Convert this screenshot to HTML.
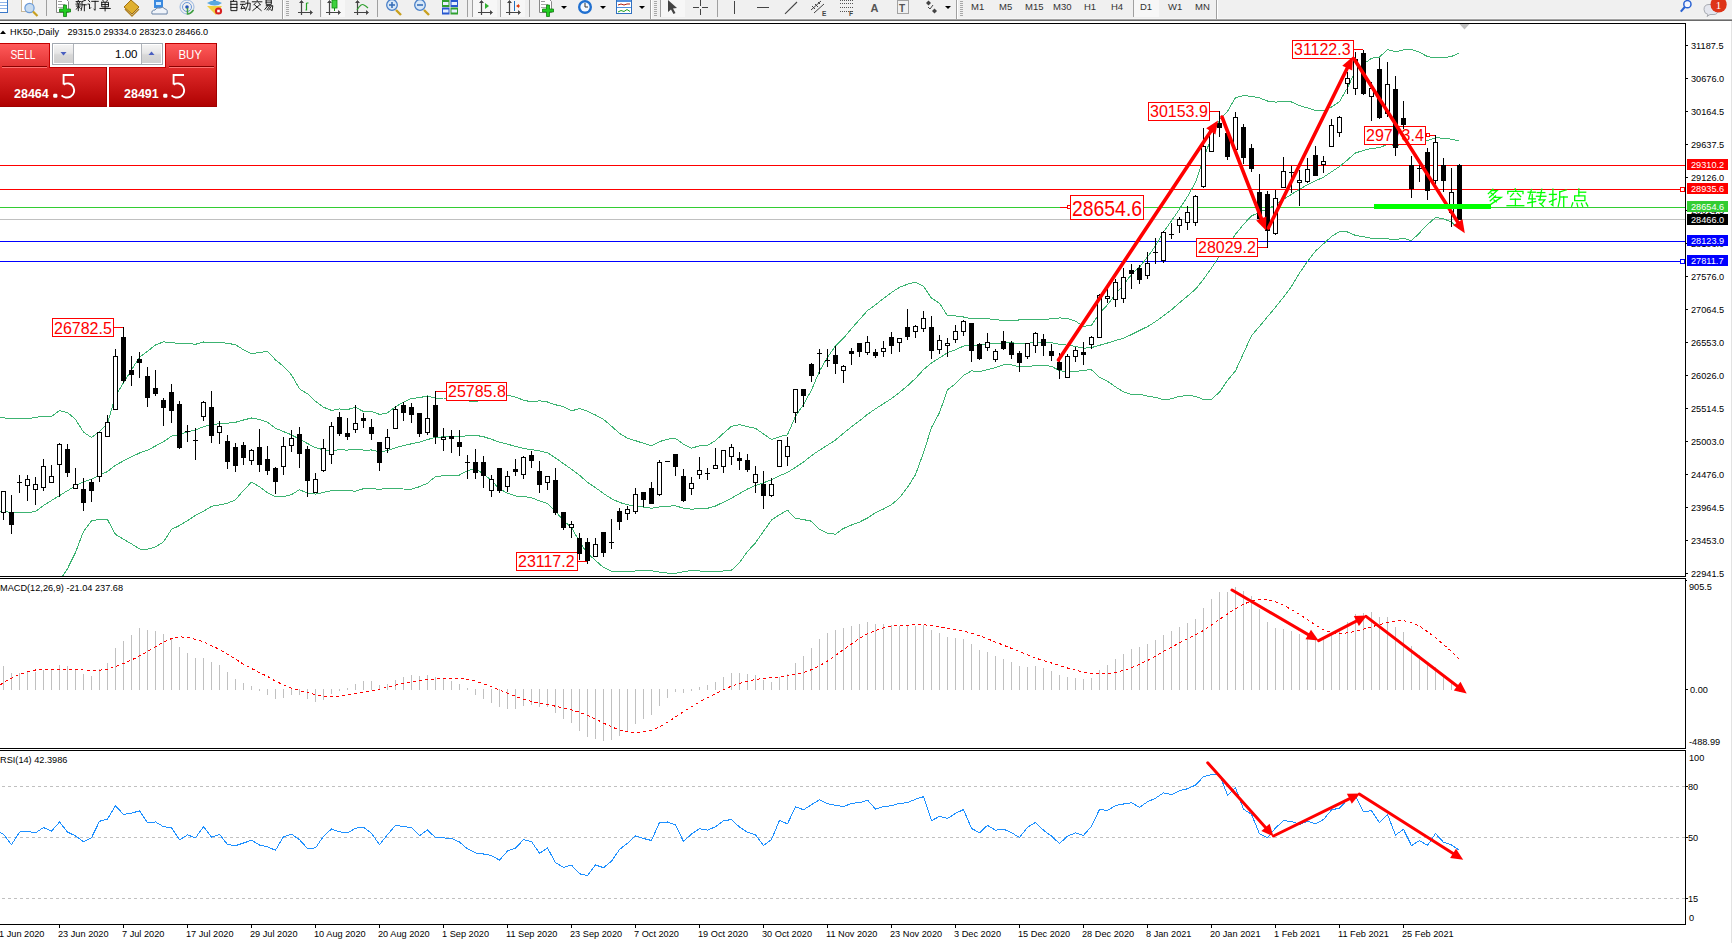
<!DOCTYPE html><html><head><meta charset="utf-8"><title>HK50 Daily</title><style>html,body{margin:0;padding:0;background:#fff;overflow:hidden;width:1732px;height:943px}svg text{font-family:"Liberation Sans", sans-serif}</style></head><body><svg width="1732" height="943" viewBox="0 0 1732 943" style="display:block;font-family:'Liberation Sans', sans-serif"><defs>
<linearGradient id="gTab" x1="0" y1="0" x2="0" y2="1"><stop offset="0" stop-color="#ff5a5a"/><stop offset="1" stop-color="#e23333"/></linearGradient>
<linearGradient id="gBox" x1="0" y1="0" x2="0" y2="1"><stop offset="0" stop-color="#e02a2a"/><stop offset="1" stop-color="#b00202"/></linearGradient>
<linearGradient id="gBtn" x1="0" y1="0" x2="0" y2="1"><stop offset="0" stop-color="#f4f4f4"/><stop offset="0.45" stop-color="#e6e6e6"/><stop offset="0.55" stop-color="#d8d8d8"/><stop offset="1" stop-color="#d0d0d0"/></linearGradient>
<linearGradient id="gTb" x1="0" y1="0" x2="0" y2="1"><stop offset="0" stop-color="#f0f0f0"/><stop offset="1" stop-color="#f0f0f0"/></linearGradient>
</defs><rect width="1732" height="943" fill="#fff"/><rect x="0" y="0" width="1732" height="19" fill="#f0f0f0"/><rect x="0" y="18" width="1732" height="1" fill="#f6f6f6"/><rect x="0" y="19" width="1732" height="1" fill="#a2a2a2"/><rect x="0" y="20" width="1732" height="1" fill="#6a6a6a"/><rect x="-3.5" y="-2.5" width="11" height="15" fill="#fff" stroke="#3a78c8"/><rect x="-3" y="2" width="10" height="1" fill="#8fb4e8"/><rect x="-3" y="5" width="10" height="1" fill="#8fb4e8"/><rect x="-3" y="8" width="10" height="1" fill="#8fb4e8"/><rect x="21.5" y="-1.5" width="11" height="13" fill="#fff" stroke="#c8b89a"/><circle cx="29.5" cy="8" r="4.6" fill="#c8dcf0" stroke="#6a9ad8" stroke-width="1.2"/><line x1="33" y1="11.5" x2="37.5" y2="16" stroke="#c8a020" stroke-width="2.2"/><rect x="46" y="0" width="1" height="16" fill="#a0a0a0"/><path d="M56.5,-1.5 h9 l3,3 v11 h-12 z" fill="#fff" stroke="#888"/><rect x="58" y="1" width="4" height="1" fill="#999"/><rect x="58" y="4" width="7" height="1" fill="#aaa"/><rect x="58" y="7" width="6" height="1" fill="#aaa"/><path d="M63.5,5 h3 v4 h4 v3 h-4 v4.5 h-3 v-4.5 h-4 v-3 h4 z" fill="#22cc22" stroke="#108010" stroke-width="0.8"/><g fill="none" stroke="#111" stroke-width="0.95" stroke-linecap="square" stroke-linejoin="miter"><polyline points="77.96,-0.04 78.52,0.88"/><polyline points="76.17,1.57 80.43,1.57"/><polyline points="77.07,2.26 77.52,3.29"/><polyline points="79.53,2.15 78.97,3.41"/><polyline points="75.95,4.10 80.65,4.10"/><polyline points="76.40,6.05 80.20,6.05"/><polyline points="78.30,4.10 78.30,10.65"/><polyline points="78.30,6.63 76.40,9.16"/><polyline points="78.64,6.86 80.20,8.24"/><polyline points="85.58,0.19 82.00,1.57"/><polyline points="82.00,1.57 82.00,6.40 81.21,10.31"/><polyline points="82.00,4.79 86.25,4.79"/><polyline points="84.35,4.79 84.35,10.77"/></g><g fill="none" stroke="#111" stroke-width="0.95" stroke-linecap="square" stroke-linejoin="miter"><polyline points="88.62,0.42 89.74,1.80"/><polyline points="87.95,4.10 89.52,4.10 89.52,8.93 90.64,7.78"/><polyline points="91.76,1.34 98.25,1.34"/><polyline points="95.12,1.34 95.12,10.31 94.00,9.39"/></g><g fill="none" stroke="#111" stroke-width="0.95" stroke-linecap="square" stroke-linejoin="miter"><polyline points="102.64,-0.04 103.42,1.23"/><polyline points="107.56,-0.04 106.67,1.23"/><polyline points="101.74,2.26 108.46,2.26 108.46,6.86 101.74,6.86 101.74,2.26"/><polyline points="101.74,4.56 108.46,4.56"/><polyline points="99.95,8.47 110.25,8.47"/><polyline points="105.10,2.26 105.10,10.88"/></g><path d="M124,7 L131,0 L139,7 L132,14 Z" fill="#e0b030" stroke="#a07010"/><path d="M125,9 L132,16 L139,9" fill="none" stroke="#b08020" stroke-width="1.5"/><rect x="154" y="-1" width="9" height="9" fill="#3a8ae0"/><rect x="156" y="2" width="5" height="3" fill="#d0e8ff"/><path d="M152,14 q-1,-4 3,-4 q1,-3 5,-2 q3,-2 5,1 q3,0 2,5 z" fill="#f0f4fa" stroke="#6a84a8"/><circle cx="187" cy="7" r="7" fill="none" stroke="#9ab8e0" stroke-width="1"/><circle cx="187" cy="7" r="4.5" fill="none" stroke="#6a98d8" stroke-width="1"/><circle cx="187" cy="7" r="1.8" fill="#2a5ab8"/><path d="M187.5,8 v6 q3,0 6,-4" fill="none" stroke="#40a040" stroke-width="1.5"/><path d="M207,3 q7,-5 15,0 q-7,5 -15,0 z" fill="#5aa8e0"/><path d="M213,1 l1.5,-3 l1.5,3 z" fill="#3a88d0"/><path d="M207,6 l15,0 l-6,9 z" fill="#f0d040"/><circle cx="218.5" cy="11" r="3.6" fill="#d82020"/><rect x="217.2" y="9.7" width="2.6" height="2.6" fill="#fff"/><g fill="none" stroke="#111" stroke-width="0.95" stroke-linecap="square" stroke-linejoin="miter"><polyline points="233.90,-0.27 233.04,1.23"/><polyline points="230.88,1.34 236.92,1.34 236.92,10.65 230.88,10.65 230.88,1.34"/><polyline points="230.88,4.33 236.92,4.33"/><polyline points="230.88,7.43 236.92,7.43"/></g><g fill="none" stroke="#111" stroke-width="0.95" stroke-linecap="square" stroke-linejoin="miter"><polyline points="240.96,1.80 244.64,1.80"/><polyline points="240.42,4.33 245.07,4.33"/><polyline points="242.69,4.33 240.96,8.93 244.85,8.01"/><polyline points="243.77,6.63 244.85,8.70"/><polyline points="245.72,3.18 250.25,3.18 249.82,10.31 248.74,9.39"/><polyline points="247.88,0.19 247.66,5.25 245.50,10.31"/></g><g fill="none" stroke="#111" stroke-width="0.95" stroke-linecap="square" stroke-linejoin="miter"><polyline points="256.88,-0.27 257.32,0.88"/><polyline points="252.35,1.80 261.85,1.80"/><polyline points="255.59,2.95 253.86,4.79"/><polyline points="258.61,2.95 260.56,4.79"/><polyline points="254.72,5.02 261.20,10.54"/><polyline points="259.48,5.02 252.78,10.54"/></g><g fill="none" stroke="#111" stroke-width="0.95" stroke-linecap="square" stroke-linejoin="miter"><polyline points="266.11,-0.04 271.29,-0.04 271.29,4.33 266.11,4.33 266.11,-0.04"/><polyline points="266.11,2.15 271.29,2.15"/><polyline points="266.32,5.71 272.80,5.71 272.16,10.54 270.86,9.85"/><polyline points="267.84,5.71 264.81,9.39"/><polyline points="269.35,6.63 266.97,9.85"/><polyline points="271.08,6.63 268.70,10.08"/></g><rect x="282" y="0" width="1" height="19" fill="#a0a0a0"/><rect x="283" y="0" width="1" height="19" fill="#ffffff"/><rect x="286" y="1" width="3" height="1" fill="#a8a8a8"/><rect x="286" y="3" width="3" height="1" fill="#a8a8a8"/><rect x="286" y="5" width="3" height="1" fill="#a8a8a8"/><rect x="286" y="7" width="3" height="1" fill="#a8a8a8"/><rect x="286" y="9" width="3" height="1" fill="#a8a8a8"/><rect x="286" y="11" width="3" height="1" fill="#a8a8a8"/><rect x="286" y="13" width="3" height="1" fill="#a8a8a8"/><rect x="286" y="15" width="3" height="1" fill="#a8a8a8"/><path d="M301.5,1 v14 M298,12.5 h14" stroke="#444" stroke-width="1.2" fill="none"/><path d="M299.5,3 l2,-2.5 l2,2.5 M310,10.5 l2.5,2 l-2.5,2" fill="#444" stroke="#444" stroke-width="0.8"/><path d="M305.5,10 h1 M306.5,3 v7.5 M306.5,3 h2" stroke="#20a020" stroke-width="1.2" fill="none"/><rect x="320" y="0" width="1" height="17" fill="#a0a0a0"/><rect x="322" y="0" width="23" height="17" fill="#f7f7f7"/><path d="M329.5,1 v14 M326,12.5 h14" stroke="#444" stroke-width="1.2" fill="none"/><path d="M327.5,3 l2,-2.5 l2,2.5 M338,10.5 l2.5,2 l-2.5,2" fill="#444" stroke="#444" stroke-width="0.8"/><rect x="332" y="0" width="5" height="8" fill="#40d040" stroke="#109010" stroke-width="0.8"/><rect x="334" y="8" width="1" height="3" fill="#109010"/><path d="M357.5,1 v14 M354,12.5 h14" stroke="#444" stroke-width="1.2" fill="none"/><path d="M355.5,3 l2,-2.5 l2,2.5 M366,10.5 l2.5,2 l-2.5,2" fill="#444" stroke="#444" stroke-width="0.8"/><path d="M357,10 q4,-7 7,-5 q2,1 4,3" fill="none" stroke="#30a030" stroke-width="1.1"/><rect x="377" y="0" width="1" height="17" fill="#a0a0a0"/><line x1="396" y1="10" x2="401" y2="15" stroke="#c8a020" stroke-width="2.4"/><circle cx="392" cy="5" r="5.3" fill="#d8e8f8" stroke="#4a80c8" stroke-width="1.3"/><rect x="389" y="4.2" width="6" height="1.6" fill="#3a70b8"/><rect x="391.2" y="2" width="1.6" height="6" fill="#3a70b8"/><line x1="424" y1="10" x2="429" y2="15" stroke="#c8a020" stroke-width="2.4"/><circle cx="420" cy="5" r="5.3" fill="#d8e8f8" stroke="#4a80c8" stroke-width="1.3"/><rect x="417" y="4.2" width="6" height="1.6" fill="#3a70b8"/><rect x="442" y="0" width="7.5" height="7" fill="#30a030"/><rect x="450.5" y="0" width="7.5" height="7" fill="#2858d0"/><rect x="442" y="7.5" width="7.5" height="7" fill="#2858d0"/><rect x="450.5" y="7.5" width="7.5" height="7" fill="#30a030"/><rect x="443" y="2" width="5.5" height="3" fill="#e8f0ff"/><rect x="451.5" y="2" width="5.5" height="3" fill="#e8f0ff"/><rect x="443" y="9.5" width="5.5" height="3" fill="#e8f0ff"/><rect x="451.5" y="9.5" width="5.5" height="3" fill="#e8f0ff"/><rect x="467" y="0" width="1" height="17" fill="#a0a0a0"/><rect x="472" y="0" width="1" height="17" fill="#a0a0a0"/><rect x="473" y="0" width="24" height="17" fill="#f7f7f7"/><path d="M481.5,1 v14 M478,12.5 h14" stroke="#444" stroke-width="1.2" fill="none"/><path d="M479.5,3 l2,-2.5 l2,2.5 M490,10.5 l2.5,2 l-2.5,2" fill="#444" stroke="#444" stroke-width="0.8"/><polygon points="485,3 485,9 489,6" fill="#30b030"/><rect x="500" y="0" width="1" height="17" fill="#a0a0a0"/><rect x="501" y="0" width="24" height="17" fill="#f7f7f7"/><path d="M509.5,1 v14 M506,12.5 h14" stroke="#444" stroke-width="1.2" fill="none"/><path d="M507.5,3 l2,-2.5 l2,2.5 M518,10.5 l2.5,2 l-2.5,2" fill="#444" stroke="#444" stroke-width="0.8"/><rect x="514" y="1" width="1" height="10" fill="#2070c0"/><polygon points="516,6 519,4 519,8" fill="#e04010"/><rect x="517" y="5.5" width="3" height="1" fill="#e04010"/><rect x="529" y="0" width="1" height="17" fill="#a0a0a0"/><path d="M539.5,-1.5 h9 l3,3 v11 h-12 z" fill="#fff" stroke="#888"/><rect x="541" y="1" width="4" height="1" fill="#999"/><rect x="541" y="4" width="7" height="1" fill="#aaa"/><rect x="541" y="7" width="6" height="1" fill="#aaa"/><path d="M546.5,5 h3 v4 h4 v3 h-4 v4.5 h-3 v-4.5 h-4 v-3 h4 z" fill="#22cc22" stroke="#108010" stroke-width="0.8"/><polygon points="561,6 567,6 564,9" fill="#000"/><circle cx="585" cy="7" r="7" fill="#2070d0"/><circle cx="585" cy="7" r="4.6" fill="#f4f8ff"/><path d="M585,3 v4 h3" stroke="#333" stroke-width="1" fill="none"/><polygon points="600,6 606,6 603,9" fill="#000"/><rect x="616.5" y="-0.5" width="15" height="14" fill="#fff" stroke="#3070c0"/><rect x="617" y="0" width="14" height="2" fill="#5090e0"/><rect x="617" y="7" width="14" height="1" fill="#5090e0"/><path d="M618,5 l3,-1 l3,1 l3,-1 l3,0" stroke="#b02010" fill="none" stroke-width="1"/><path d="M618,12 l3,-1.5 l3,1 l3,-2 l3,2" stroke="#20a020" fill="none" stroke-width="1"/><polygon points="639,6 645,6 642,9" fill="#000"/><rect x="650" y="0" width="1" height="19" fill="#a0a0a0"/><rect x="651" y="0" width="1" height="19" fill="#ffffff"/><rect x="654" y="1" width="3" height="1" fill="#a8a8a8"/><rect x="654" y="3" width="3" height="1" fill="#a8a8a8"/><rect x="654" y="5" width="3" height="1" fill="#a8a8a8"/><rect x="654" y="7" width="3" height="1" fill="#a8a8a8"/><rect x="654" y="9" width="3" height="1" fill="#a8a8a8"/><rect x="654" y="11" width="3" height="1" fill="#a8a8a8"/><rect x="654" y="13" width="3" height="1" fill="#a8a8a8"/><rect x="654" y="15" width="3" height="1" fill="#a8a8a8"/><rect x="660" y="0" width="1" height="17" fill="#a0a0a0"/><rect x="661" y="0" width="24" height="17" fill="#f7f7f7"/><path d="M668,0 L668,12 L671,9.5 L673.5,14 L675.5,13 L673,8.5 L677,8 Z" fill="#444"/><path d="M693,7.5 h6 M702,7.5 h6 M700.5,0 v6 M700.5,9 v6" stroke="#444" stroke-width="1" fill="none"/><rect x="717" y="0" width="1" height="17" fill="#a0a0a0"/><rect x="734" y="1" width="1" height="13" fill="#444"/><rect x="757" y="7" width="12" height="1" fill="#444"/><line x1="785" y1="13.8" x2="797" y2="2" stroke="#444" stroke-width="1.1"/><path d="M811,10 l10,-9 M814,13 l10,-9 M812,6 l3,3 M815,4 l3,3 M818,2 l2,2" stroke="#444" stroke-width="1" fill="none"/><text x="822" y="16" font-size="6.5" font-weight="bold" fill="#444">E</text><line x1="840" y1="0.5" x2="853" y2="0.5" stroke="#555" stroke-dasharray="1 1"/><line x1="840" y1="3.5" x2="853" y2="3.5" stroke="#555" stroke-dasharray="1 1"/><line x1="840" y1="7.5" x2="853" y2="7.5" stroke="#555" stroke-dasharray="1 1"/><line x1="840" y1="11.5" x2="853" y2="11.5" stroke="#555" stroke-dasharray="1 1"/><text x="849" y="16" font-size="6.5" font-weight="bold" fill="#444">F</text><text x="870.5" y="12" font-size="11" font-weight="bold" fill="#555">A</text><rect x="897.5" y="0.5" width="11" height="13" fill="none" stroke="#555" stroke-dasharray="1 1"/><text x="899" y="11.5" font-size="10" font-weight="bold" fill="#555">T</text><polygon points="926,3 928.5,0.5 931,3 928.5,5.5" fill="#444"/><polygon points="932,11 934.5,8.5 937,11 934.5,13.5" fill="#444"/><path d="M928,7 l2,2 l3,-4" stroke="#444" fill="none"/><polygon points="945,6 951,6 948,9" fill="#000"/><rect x="956" y="0" width="1" height="19" fill="#a0a0a0"/><rect x="957" y="0" width="1" height="19" fill="#ffffff"/><rect x="960" y="1" width="3" height="1" fill="#a8a8a8"/><rect x="960" y="3" width="3" height="1" fill="#a8a8a8"/><rect x="960" y="5" width="3" height="1" fill="#a8a8a8"/><rect x="960" y="7" width="3" height="1" fill="#a8a8a8"/><rect x="960" y="9" width="3" height="1" fill="#a8a8a8"/><rect x="960" y="11" width="3" height="1" fill="#a8a8a8"/><rect x="960" y="13" width="3" height="1" fill="#a8a8a8"/><rect x="960" y="15" width="3" height="1" fill="#a8a8a8"/><text x="971" y="10.4" font-size="9.5" fill="#333">M1</text><text x="999" y="10.4" font-size="9.5" fill="#333">M5</text><text x="1025" y="10.4" font-size="9.5" fill="#333">M15</text><text x="1053" y="10.4" font-size="9.5" fill="#333">M30</text><text x="1084" y="10.4" font-size="9.5" fill="#333">H1</text><text x="1111" y="10.4" font-size="9.5" fill="#333">H4</text><rect x="1134" y="0" width="25" height="17" fill="#f7f7f7"/><text x="1140" y="10.4" font-size="9.5" fill="#333">D1</text><text x="1168" y="10.4" font-size="9.5" fill="#333">W1</text><text x="1195" y="10.4" font-size="9.5" fill="#333">MN</text><rect x="1133" y="0" width="1" height="17" fill="#a0a0a0"/><rect x="1216" y="0" width="1" height="19" fill="#a0a0a0"/><rect x="1217" y="0" width="1" height="19" fill="#ffffff"/><circle cx="1687.4" cy="4.2" r="3.6" fill="#f4f6ff" stroke="#2a62d2" stroke-width="1.5"/><line x1="1685" y1="6.8" x2="1680.8" y2="11.6" stroke="#2a62d2" stroke-width="2.1"/><path d="M1709,4.5 q-5,0 -5,5 q0,4 4,5 l-1,2 l3,-2 h4 q4,0 4,-5 q0,-5 -5,-5 z" fill="#e4e6ee" stroke="#a0a4aa" stroke-width="0.9"/><circle cx="1718.6" cy="4.4" r="8.1" fill="#de3418"/><text x="1718.4" y="9" font-size="11" fill="#fff" text-anchor="middle" style="font-family:&quot;Liberation Serif&quot;,serif">1</text><rect x="0" y="23" width="1686" height="1" fill="#000"/><rect x="1685" y="23" width="1" height="554" fill="#000"/><rect x="1685" y="578" width="1" height="171" fill="#000"/><rect x="1685" y="750" width="1" height="175" fill="#000"/><rect x="0" y="576" width="1686" height="1" fill="#000"/><rect x="0" y="578" width="1686" height="1" fill="#000"/><rect x="0" y="748" width="1686" height="1" fill="#000"/><rect x="0" y="750" width="1686" height="1" fill="#000"/><rect x="0" y="924" width="1686" height="1" fill="#000"/><rect x="1731" y="21" width="1" height="922" fill="#e3e3e3"/><rect x="0" y="165" width="1685" height="1" fill="#ff0000"/><rect x="0" y="189" width="1685" height="1" fill="#ff0000"/><rect x="0" y="207" width="1685" height="1" fill="#32cd32"/><rect x="0" y="219" width="1685" height="1" fill="#c0c0c0"/><rect x="0" y="241" width="1685" height="1" fill="#0000ff"/><rect x="0" y="261" width="1685" height="1" fill="#0000ff"/><rect x="1680.5" y="187.5" width="4" height="4" fill="#fff" stroke="#ff0000" stroke-width="1" shape-rendering="crispEdges"/><rect x="1680.5" y="259.5" width="4" height="4" fill="#fff" stroke="#0000ff" stroke-width="1" shape-rendering="crispEdges"/><svg x="0" y="24" width="1685" height="552" viewBox="0 24 1685 552" overflow="hidden"><polyline points="-4.5,416.5 3.5,417.8 11.5,418.9 19.5,418.2 27.5,418.9 35.5,417.3 43.5,416.4 51.5,416.5 59.5,410.6 67.5,412.6 75.5,419.4 83.5,432.1 91.5,437.5 99.5,431.4 107.5,423.4 115.5,395.9 123.5,382.6 131.5,370.0 139.5,357.1 147.5,351.3 155.5,345.0 163.5,341.8 171.5,342.8 179.5,343.3 187.5,343.3 195.5,344.3 203.5,342.0 211.5,343.0 219.5,342.6 227.5,343.2 235.5,344.8 243.5,349.7 251.5,353.8 259.5,352.5 267.5,351.3 275.5,359.9 283.5,366.3 291.5,374.9 299.5,388.9 307.5,393.8 315.5,401.3 323.5,407.2 331.5,410.4 339.5,409.0 347.5,409.6 355.5,407.2 363.5,411.6 371.5,411.3 379.5,414.4 387.5,412.9 395.5,406.8 403.5,402.1 411.5,398.4 419.5,397.7 427.5,395.9 435.5,398.2 443.5,398.0 451.5,398.0 459.5,398.1 467.5,400.7 475.5,401.9 483.5,399.3 491.5,398.0 499.5,395.3 507.5,395.1 515.5,397.1 523.5,400.2 531.5,401.8 539.5,400.8 547.5,402.0 555.5,404.8 563.5,406.6 571.5,410.9 579.5,408.6 587.5,411.3 595.5,415.0 603.5,419.4 611.5,426.2 619.5,433.4 627.5,438.1 635.5,440.7 643.5,443.3 651.5,445.8 659.5,441.6 667.5,439.2 675.5,438.4 683.5,444.3 691.5,448.1 699.5,445.9 707.5,445.5 715.5,440.5 723.5,433.2 731.5,426.3 739.5,424.6 747.5,426.6 755.5,428.3 763.5,434.0 771.5,439.5 779.5,436.7 787.5,434.8 795.5,416.3 803.5,404.5 811.5,390.0 819.5,371.1 827.5,357.3 835.5,345.9 843.5,338.2 851.5,328.6 859.5,319.6 867.5,310.6 875.5,304.8 883.5,298.4 891.5,292.5 899.5,287.3 907.5,284.2 915.5,282.2 923.5,286.4 931.5,298.2 939.5,303.2 947.5,315.8 955.5,315.9 963.5,317.0 971.5,318.9 979.5,318.8 987.5,318.8 995.5,319.5 1003.5,320.8 1011.5,320.8 1019.5,319.9 1027.5,320.0 1035.5,319.2 1043.5,319.2 1051.5,318.9 1059.5,317.9 1067.5,318.6 1075.5,321.2 1083.5,326.4 1091.5,325.2 1099.5,313.4 1107.5,304.7 1115.5,294.1 1123.5,284.9 1131.5,274.4 1139.5,267.0 1147.5,257.0 1155.5,245.9 1163.5,231.9 1171.5,220.9 1179.5,209.0 1187.5,196.6 1195.5,182.3 1203.5,159.0 1211.5,136.7 1219.5,119.7 1227.5,111.4 1235.5,97.6 1243.5,95.7 1251.5,96.2 1259.5,97.9 1267.5,101.0 1275.5,102.1 1283.5,101.5 1291.5,102.0 1299.5,105.6 1307.5,107.9 1315.5,110.5 1323.5,110.6 1331.5,107.0 1339.5,101.6 1347.5,87.8 1355.5,70.7 1363.5,64.1 1371.5,58.2 1379.5,57.1 1387.5,49.5 1395.5,51.8 1403.5,49.8 1411.5,49.4 1419.5,52.2 1427.5,56.6 1435.5,58.0 1443.5,57.6 1451.5,56.5 1459.5,52.9" fill="none" stroke="#3cb371" stroke-width="1" shape-rendering="crispEdges"/><polyline points="-4.5,510.8 3.5,511.4 11.5,512.5 19.5,512.2 27.5,512.5 35.5,511.6 43.5,505.4 51.5,500.5 59.5,495.6 67.5,490.7 75.5,485.9 83.5,481.8 91.5,479.3 99.5,475.3 107.5,471.5 115.5,465.2 123.5,460.9 131.5,456.9 139.5,453.0 147.5,450.2 155.5,446.0 163.5,441.8 171.5,436.1 179.5,434.4 187.5,432.0 195.5,429.9 203.5,426.7 211.5,424.6 219.5,423.7 227.5,423.2 235.5,422.3 243.5,420.0 251.5,418.0 259.5,419.6 267.5,422.1 275.5,428.3 283.5,431.6 291.5,434.8 299.5,439.3 307.5,443.5 315.5,447.7 323.5,449.8 331.5,450.6 339.5,449.8 347.5,450.1 355.5,449.2 363.5,450.1 371.5,450.0 379.5,451.8 387.5,450.6 395.5,447.8 403.5,445.5 411.5,443.8 419.5,442.2 427.5,439.6 435.5,437.3 443.5,436.9 451.5,436.9 459.5,436.6 467.5,435.7 475.5,435.3 483.5,436.7 491.5,439.3 499.5,442.2 507.5,444.1 515.5,446.5 523.5,448.4 531.5,449.7 539.5,450.8 547.5,452.8 555.5,457.9 563.5,463.7 571.5,469.2 579.5,475.2 587.5,482.3 595.5,487.7 603.5,493.5 611.5,498.7 619.5,502.4 627.5,504.8 635.5,505.8 643.5,507.1 651.5,508.3 659.5,506.9 667.5,506.1 675.5,505.9 683.5,508.1 691.5,509.2 699.5,508.5 707.5,508.3 715.5,506.0 723.5,502.1 731.5,498.2 739.5,493.6 747.5,489.0 755.5,485.5 763.5,482.7 771.5,479.8 779.5,475.7 787.5,472.5 795.5,467.3 803.5,462.1 811.5,455.6 819.5,450.2 827.5,445.2 835.5,440.0 843.5,433.3 851.5,426.8 859.5,420.8 867.5,414.3 875.5,408.8 883.5,403.7 891.5,398.6 899.5,392.5 907.5,385.8 915.5,378.4 923.5,369.6 931.5,362.9 939.5,357.9 947.5,352.7 955.5,349.8 963.5,346.1 971.5,344.9 979.5,345.2 987.5,344.2 995.5,343.6 1003.5,342.7 1011.5,342.8 1019.5,343.4 1027.5,343.4 1035.5,342.3 1043.5,342.2 1051.5,342.7 1059.5,344.2 1067.5,345.2 1075.5,346.4 1083.5,348.2 1091.5,347.6 1099.5,345.3 1107.5,343.0 1115.5,340.5 1123.5,338.3 1131.5,334.5 1139.5,330.5 1147.5,326.6 1155.5,321.6 1163.5,315.8 1171.5,309.8 1179.5,302.7 1187.5,296.1 1195.5,289.2 1203.5,279.3 1211.5,268.0 1219.5,255.9 1227.5,245.9 1235.5,234.3 1243.5,224.4 1251.5,216.0 1259.5,212.2 1267.5,208.8 1275.5,204.6 1283.5,199.3 1291.5,194.3 1299.5,189.3 1307.5,184.6 1315.5,180.8 1323.5,177.2 1331.5,171.8 1339.5,166.6 1347.5,159.9 1355.5,153.0 1363.5,150.4 1371.5,148.3 1379.5,147.8 1387.5,144.2 1395.5,145.7 1403.5,144.0 1411.5,145.0 1419.5,142.6 1427.5,140.6 1435.5,137.7 1443.5,138.2 1451.5,139.2 1459.5,141.2" fill="none" stroke="#3cb371" stroke-width="1" shape-rendering="crispEdges"/><polyline points="-4.5,605.1 3.5,605.0 11.5,606.2 19.5,606.2 27.5,606.1 35.5,605.9 43.5,594.3 51.5,584.5 59.5,580.6 67.5,568.7 75.5,552.4 83.5,531.5 91.5,521.0 99.5,519.2 107.5,519.6 115.5,534.4 123.5,539.3 131.5,543.8 139.5,549.0 147.5,549.2 155.5,546.9 163.5,541.9 171.5,529.4 179.5,525.5 187.5,520.7 195.5,515.4 203.5,511.3 211.5,506.3 219.5,504.9 227.5,503.2 235.5,499.8 243.5,490.4 251.5,482.1 259.5,486.7 267.5,492.8 275.5,496.8 283.5,496.8 291.5,494.6 299.5,489.7 307.5,493.1 315.5,494.1 323.5,492.4 331.5,490.8 339.5,490.7 347.5,490.6 355.5,491.2 363.5,488.7 371.5,488.7 379.5,489.3 387.5,488.3 395.5,488.8 403.5,489.0 411.5,489.2 419.5,486.7 427.5,483.2 435.5,476.5 443.5,475.8 451.5,475.9 459.5,475.0 467.5,470.6 475.5,468.7 483.5,474.0 491.5,480.6 499.5,489.0 507.5,493.1 515.5,496.0 523.5,496.5 531.5,497.7 539.5,500.9 547.5,503.6 555.5,511.1 563.5,520.8 571.5,527.5 579.5,541.8 587.5,553.4 595.5,560.4 603.5,567.5 611.5,571.1 619.5,571.4 627.5,571.4 635.5,571.0 643.5,570.8 651.5,570.8 659.5,572.1 667.5,573.1 675.5,573.4 683.5,571.8 691.5,570.3 699.5,571.0 707.5,571.2 715.5,571.5 723.5,571.0 731.5,570.2 739.5,562.6 747.5,551.4 755.5,542.8 763.5,531.3 771.5,520.1 779.5,514.7 787.5,510.2 795.5,518.3 803.5,519.6 811.5,521.2 819.5,529.3 827.5,533.1 835.5,534.2 843.5,528.4 851.5,525.0 859.5,522.1 867.5,518.0 875.5,512.7 883.5,509.0 891.5,504.7 899.5,497.7 907.5,487.4 915.5,474.6 923.5,452.7 931.5,427.5 939.5,412.7 947.5,389.7 955.5,383.8 963.5,375.3 971.5,370.9 979.5,371.6 987.5,369.6 995.5,367.7 1003.5,364.7 1011.5,364.8 1019.5,366.8 1027.5,366.8 1035.5,365.4 1043.5,365.2 1051.5,366.4 1059.5,370.6 1067.5,371.8 1075.5,371.6 1083.5,370.1 1091.5,369.9 1099.5,377.2 1107.5,381.3 1115.5,386.9 1123.5,391.8 1131.5,394.6 1139.5,394.1 1147.5,396.2 1155.5,397.4 1163.5,399.7 1171.5,398.8 1179.5,396.3 1187.5,395.6 1195.5,396.2 1203.5,399.6 1211.5,399.4 1219.5,392.1 1227.5,380.5 1235.5,370.9 1243.5,353.1 1251.5,335.8 1259.5,326.4 1267.5,316.7 1275.5,307.2 1283.5,297.1 1291.5,286.5 1299.5,273.0 1307.5,261.4 1315.5,251.1 1323.5,243.8 1331.5,236.5 1339.5,231.6 1347.5,232.0 1355.5,235.4 1363.5,236.7 1371.5,238.4 1379.5,238.5 1387.5,238.9 1395.5,239.6 1403.5,238.2 1411.5,240.7 1419.5,232.9 1427.5,224.5 1435.5,217.5 1443.5,218.8 1451.5,222.0 1459.5,229.4" fill="none" stroke="#3cb371" stroke-width="1" shape-rendering="crispEdges"/></svg><rect x="114" y="327" width="9" height="1" fill="#ff0000"/><rect x="52.5" y="318.5" width="61" height="18" fill="#fff" stroke="#ff0000" stroke-width="1" shape-rendering="crispEdges"/><text x="54" y="318.10" font-size="16" fill="#ff0000" transform="scale(1,1.05)">26782.5</text><rect x="435" y="391" width="11" height="1" fill="#ff0000"/><rect x="446.5" y="382.5" width="60" height="18" fill="#fff" stroke="#ff0000" stroke-width="1" shape-rendering="crispEdges"/><text x="448" y="378.10" font-size="16" fill="#ff0000" transform="scale(1,1.05)">25785.8</text><rect x="577" y="561" width="10" height="1" fill="#ff0000"/><rect x="516.5" y="552.5" width="61" height="18" fill="#fff" stroke="#ff0000" stroke-width="1" shape-rendering="crispEdges"/><text x="518" y="540.00" font-size="16" fill="#ff0000" transform="scale(1,1.05)">23117.2</text><rect x="1060" y="207" width="7" height="1" fill="#ff0000"/><rect x="1067.5" y="205.5" width="3" height="3" fill="#fff" stroke="#ff0000" stroke-width="1" shape-rendering="crispEdges"/><rect x="1070.5" y="195.5" width="73" height="24" fill="#fff" stroke="#ff0000" stroke-width="1" shape-rendering="crispEdges"/><text x="1072" y="192.86" font-size="19.4" fill="#ff0000" transform="scale(1,1.12)">28654.6</text><rect x="1209" y="111" width="10" height="1" fill="#ff0000"/><rect x="1148.5" y="102.5" width="61" height="18" fill="#fff" stroke="#ff0000" stroke-width="1" shape-rendering="crispEdges"/><text x="1150" y="111.43" font-size="16" fill="#ff0000" transform="scale(1,1.05)">30153.9</text><rect x="1257" y="247" width="10" height="1" fill="#ff0000"/><rect x="1196.5" y="238.5" width="61" height="18" fill="#fff" stroke="#ff0000" stroke-width="1" shape-rendering="crispEdges"/><text x="1198" y="240.95" font-size="16" fill="#ff0000" transform="scale(1,1.05)">28029.2</text><rect x="1353" y="49" width="10" height="1" fill="#ff0000"/><rect x="1292.5" y="40.5" width="61" height="18" fill="#fff" stroke="#ff0000" stroke-width="1" shape-rendering="crispEdges"/><text x="1294" y="52.38" font-size="16" fill="#ff0000" transform="scale(1,1.05)">31122.3</text><rect x="1429" y="135" width="6" height="1" fill="#ff0000"/><rect x="1426.5" y="133.5" width="3" height="3" fill="#fff" stroke="#ff0000" stroke-width="1" shape-rendering="crispEdges"/><rect x="1364.5" y="126.5" width="61" height="18" fill="#fff" stroke="#ff0000" stroke-width="1" shape-rendering="crispEdges"/><text x="1366" y="134.29" font-size="16" fill="#ff0000" transform="scale(1,1.05)">29773.4</text><rect x="3" y="491" width="1" height="29" fill="#000"/><rect x="1" y="491" width="5" height="22" fill="#000"/><rect x="2" y="492" width="3" height="20" fill="#fff"/><rect x="11" y="495" width="1" height="39" fill="#000"/><rect x="9" y="512" width="5" height="13" fill="#000"/><rect x="19" y="475" width="1" height="18" fill="#000"/><rect x="17" y="482" width="5" height="1" fill="#000"/><rect x="27" y="475" width="1" height="26" fill="#000"/><rect x="25" y="479" width="5" height="7" fill="#000"/><rect x="26" y="480" width="3" height="5" fill="#fff"/><rect x="35" y="477" width="1" height="28" fill="#000"/><rect x="33" y="484" width="5" height="6" fill="#000"/><rect x="34" y="485" width="3" height="4" fill="#fff"/><rect x="43" y="459" width="1" height="32" fill="#000"/><rect x="41" y="466" width="5" height="22" fill="#000"/><rect x="42" y="467" width="3" height="20" fill="#fff"/><rect x="51" y="465" width="1" height="18" fill="#000"/><rect x="49" y="476" width="5" height="7" fill="#000"/><rect x="50" y="477" width="3" height="5" fill="#fff"/><rect x="59" y="443" width="1" height="54" fill="#000"/><rect x="57" y="444" width="5" height="21" fill="#000"/><rect x="58" y="445" width="3" height="19" fill="#fff"/><rect x="67" y="444" width="1" height="33" fill="#000"/><rect x="65" y="449" width="5" height="24" fill="#000"/><rect x="75" y="468" width="1" height="21" fill="#000"/><rect x="73" y="484" width="5" height="5" fill="#000"/><rect x="74" y="485" width="3" height="3" fill="#fff"/><rect x="83" y="478" width="1" height="33" fill="#000"/><rect x="81" y="489" width="5" height="14" fill="#000"/><rect x="91" y="479" width="1" height="23" fill="#000"/><rect x="89" y="482" width="5" height="9" fill="#000"/><rect x="99" y="432" width="1" height="50" fill="#000"/><rect x="97" y="432" width="5" height="45" fill="#000"/><rect x="98" y="433" width="3" height="43" fill="#fff"/><rect x="107" y="415" width="1" height="22" fill="#000"/><rect x="105" y="422" width="5" height="15" fill="#000"/><rect x="106" y="423" width="3" height="13" fill="#fff"/><rect x="115" y="349" width="1" height="61" fill="#000"/><rect x="113" y="356" width="5" height="54" fill="#000"/><rect x="114" y="357" width="3" height="52" fill="#fff"/><rect x="123" y="327" width="1" height="56" fill="#000"/><rect x="121" y="337" width="5" height="44" fill="#000"/><rect x="131" y="356" width="1" height="30" fill="#000"/><rect x="129" y="370" width="5" height="5" fill="#000"/><rect x="139" y="352" width="1" height="26" fill="#000"/><rect x="137" y="359" width="5" height="4" fill="#000"/><rect x="147" y="367" width="1" height="40" fill="#000"/><rect x="145" y="376" width="5" height="22" fill="#000"/><rect x="155" y="370" width="1" height="26" fill="#000"/><rect x="153" y="388" width="5" height="6" fill="#000"/><rect x="163" y="398" width="1" height="28" fill="#000"/><rect x="161" y="400" width="5" height="8" fill="#000"/><rect x="171" y="384" width="1" height="39" fill="#000"/><rect x="169" y="392" width="5" height="19" fill="#000"/><rect x="179" y="401" width="1" height="48" fill="#000"/><rect x="177" y="404" width="5" height="44" fill="#000"/><rect x="187" y="425" width="1" height="17" fill="#000"/><rect x="185" y="431" width="5" height="1" fill="#000"/><rect x="195" y="428" width="1" height="32" fill="#000"/><rect x="193" y="440" width="5" height="1" fill="#000"/><rect x="203" y="401" width="1" height="20" fill="#000"/><rect x="201" y="402" width="5" height="15" fill="#000"/><rect x="202" y="403" width="3" height="13" fill="#fff"/><rect x="211" y="391" width="1" height="52" fill="#000"/><rect x="209" y="407" width="5" height="29" fill="#000"/><rect x="219" y="421" width="1" height="23" fill="#000"/><rect x="217" y="426" width="5" height="7" fill="#000"/><rect x="218" y="427" width="3" height="5" fill="#fff"/><rect x="227" y="435" width="1" height="34" fill="#000"/><rect x="225" y="441" width="5" height="21" fill="#000"/><rect x="235" y="443" width="1" height="29" fill="#000"/><rect x="233" y="447" width="5" height="19" fill="#000"/><rect x="243" y="442" width="1" height="23" fill="#000"/><rect x="241" y="445" width="5" height="13" fill="#000"/><rect x="251" y="449" width="1" height="16" fill="#000"/><rect x="249" y="450" width="5" height="11" fill="#000"/><rect x="250" y="451" width="3" height="9" fill="#fff"/><rect x="259" y="429" width="1" height="43" fill="#000"/><rect x="257" y="447" width="5" height="18" fill="#000"/><rect x="267" y="446" width="1" height="29" fill="#000"/><rect x="265" y="459" width="5" height="12" fill="#000"/><rect x="275" y="467" width="1" height="27" fill="#000"/><rect x="273" y="468" width="5" height="14" fill="#000"/><rect x="283" y="437" width="1" height="38" fill="#000"/><rect x="281" y="446" width="5" height="21" fill="#000"/><rect x="282" y="447" width="3" height="19" fill="#fff"/><rect x="291" y="430" width="1" height="22" fill="#000"/><rect x="289" y="438" width="5" height="8" fill="#000"/><rect x="290" y="439" width="3" height="6" fill="#fff"/><rect x="299" y="427" width="1" height="41" fill="#000"/><rect x="297" y="434" width="5" height="20" fill="#000"/><rect x="307" y="446" width="1" height="51" fill="#000"/><rect x="305" y="449" width="5" height="32" fill="#000"/><rect x="315" y="473" width="1" height="20" fill="#000"/><rect x="313" y="479" width="5" height="14" fill="#000"/><rect x="314" y="480" width="3" height="12" fill="#fff"/><rect x="323" y="439" width="1" height="33" fill="#000"/><rect x="321" y="448" width="5" height="23" fill="#000"/><rect x="322" y="449" width="3" height="21" fill="#fff"/><rect x="331" y="422" width="1" height="42" fill="#000"/><rect x="329" y="426" width="5" height="29" fill="#000"/><rect x="330" y="427" width="3" height="27" fill="#fff"/><rect x="339" y="412" width="1" height="24" fill="#000"/><rect x="337" y="417" width="5" height="17" fill="#000"/><rect x="347" y="418" width="1" height="22" fill="#000"/><rect x="345" y="433" width="5" height="4" fill="#000"/><rect x="355" y="405" width="1" height="28" fill="#000"/><rect x="353" y="423" width="5" height="7" fill="#000"/><rect x="354" y="424" width="3" height="5" fill="#fff"/><rect x="363" y="413" width="1" height="15" fill="#000"/><rect x="361" y="418" width="5" height="3" fill="#000"/><rect x="371" y="419" width="1" height="21" fill="#000"/><rect x="369" y="427" width="5" height="7" fill="#000"/><rect x="379" y="442" width="1" height="29" fill="#000"/><rect x="377" y="442" width="5" height="21" fill="#000"/><rect x="387" y="429" width="1" height="24" fill="#000"/><rect x="385" y="437" width="5" height="12" fill="#000"/><rect x="386" y="438" width="3" height="10" fill="#fff"/><rect x="395" y="406" width="1" height="23" fill="#000"/><rect x="393" y="409" width="5" height="20" fill="#000"/><rect x="394" y="410" width="3" height="18" fill="#fff"/><rect x="403" y="402" width="1" height="19" fill="#000"/><rect x="401" y="405" width="5" height="8" fill="#000"/><rect x="411" y="403" width="1" height="20" fill="#000"/><rect x="409" y="407" width="5" height="8" fill="#000"/><rect x="419" y="413" width="1" height="24" fill="#000"/><rect x="417" y="413" width="5" height="21" fill="#000"/><rect x="427" y="396" width="1" height="39" fill="#000"/><rect x="425" y="418" width="5" height="15" fill="#000"/><rect x="426" y="419" width="3" height="13" fill="#fff"/><rect x="435" y="391" width="1" height="53" fill="#000"/><rect x="433" y="405" width="5" height="32" fill="#000"/><rect x="443" y="428" width="1" height="23" fill="#000"/><rect x="441" y="437" width="5" height="3" fill="#000"/><rect x="442" y="438" width="3" height="1" fill="#fff"/><rect x="451" y="430" width="1" height="23" fill="#000"/><rect x="449" y="436" width="5" height="3" fill="#000"/><rect x="459" y="430" width="1" height="26" fill="#000"/><rect x="457" y="442" width="5" height="5" fill="#000"/><rect x="467" y="455" width="1" height="24" fill="#000"/><rect x="465" y="462" width="5" height="1" fill="#000"/><rect x="475" y="449" width="1" height="30" fill="#000"/><rect x="473" y="462" width="5" height="11" fill="#000"/><rect x="483" y="456" width="1" height="32" fill="#000"/><rect x="481" y="462" width="5" height="14" fill="#000"/><rect x="491" y="475" width="1" height="22" fill="#000"/><rect x="489" y="479" width="5" height="12" fill="#000"/><rect x="490" y="480" width="3" height="10" fill="#fff"/><rect x="499" y="468" width="1" height="25" fill="#000"/><rect x="497" y="468" width="5" height="23" fill="#000"/><rect x="507" y="471" width="1" height="21" fill="#000"/><rect x="505" y="476" width="5" height="11" fill="#000"/><rect x="506" y="477" width="3" height="9" fill="#fff"/><rect x="515" y="459" width="1" height="17" fill="#000"/><rect x="513" y="469" width="5" height="3" fill="#000"/><rect x="523" y="456" width="1" height="23" fill="#000"/><rect x="521" y="457" width="5" height="18" fill="#000"/><rect x="522" y="458" width="3" height="16" fill="#fff"/><rect x="531" y="451" width="1" height="17" fill="#000"/><rect x="529" y="455" width="5" height="6" fill="#000"/><rect x="539" y="461" width="1" height="32" fill="#000"/><rect x="537" y="471" width="5" height="14" fill="#000"/><rect x="547" y="476" width="1" height="14" fill="#000"/><rect x="545" y="476" width="5" height="7" fill="#000"/><rect x="546" y="477" width="3" height="5" fill="#fff"/><rect x="555" y="468" width="1" height="47" fill="#000"/><rect x="553" y="480" width="5" height="33" fill="#000"/><rect x="563" y="512" width="1" height="18" fill="#000"/><rect x="561" y="512" width="5" height="16" fill="#000"/><rect x="571" y="521" width="1" height="17" fill="#000"/><rect x="569" y="524" width="5" height="4" fill="#000"/><rect x="570" y="525" width="3" height="2" fill="#fff"/><rect x="579" y="533" width="1" height="27" fill="#000"/><rect x="577" y="538" width="5" height="16" fill="#000"/><rect x="587" y="538" width="1" height="26" fill="#000"/><rect x="585" y="542" width="5" height="19" fill="#000"/><rect x="595" y="538" width="1" height="19" fill="#000"/><rect x="593" y="544" width="5" height="13" fill="#000"/><rect x="594" y="545" width="3" height="11" fill="#fff"/><rect x="603" y="532" width="1" height="25" fill="#000"/><rect x="601" y="532" width="5" height="21" fill="#000"/><rect x="611" y="519" width="1" height="30" fill="#000"/><rect x="609" y="542" width="5" height="1" fill="#000"/><rect x="619" y="508" width="1" height="22" fill="#000"/><rect x="617" y="511" width="5" height="11" fill="#000"/><rect x="627" y="506" width="1" height="14" fill="#000"/><rect x="625" y="509" width="5" height="5" fill="#000"/><rect x="626" y="510" width="3" height="3" fill="#fff"/><rect x="635" y="488" width="1" height="26" fill="#000"/><rect x="633" y="494" width="5" height="18" fill="#000"/><rect x="634" y="495" width="3" height="16" fill="#fff"/><rect x="643" y="492" width="1" height="15" fill="#000"/><rect x="641" y="492" width="5" height="8" fill="#000"/><rect x="651" y="482" width="1" height="22" fill="#000"/><rect x="649" y="488" width="5" height="16" fill="#000"/><rect x="659" y="460" width="1" height="36" fill="#000"/><rect x="657" y="462" width="5" height="33" fill="#000"/><rect x="658" y="463" width="3" height="31" fill="#fff"/><rect x="665" y="461" width="5" height="1" fill="#000"/><rect x="675" y="454" width="1" height="22" fill="#000"/><rect x="673" y="454" width="5" height="13" fill="#000"/><rect x="683" y="469" width="1" height="33" fill="#000"/><rect x="681" y="476" width="5" height="25" fill="#000"/><rect x="691" y="477" width="1" height="18" fill="#000"/><rect x="689" y="483" width="5" height="6" fill="#000"/><rect x="690" y="484" width="3" height="4" fill="#fff"/><rect x="699" y="457" width="1" height="22" fill="#000"/><rect x="697" y="470" width="5" height="5" fill="#000"/><rect x="698" y="471" width="3" height="3" fill="#fff"/><rect x="707" y="468" width="1" height="12" fill="#000"/><rect x="705" y="473" width="5" height="1" fill="#000"/><rect x="715" y="448" width="1" height="21" fill="#000"/><rect x="713" y="465" width="5" height="4" fill="#000"/><rect x="714" y="466" width="3" height="2" fill="#fff"/><rect x="723" y="450" width="1" height="23" fill="#000"/><rect x="721" y="450" width="5" height="17" fill="#000"/><rect x="722" y="451" width="3" height="15" fill="#fff"/><rect x="731" y="444" width="1" height="21" fill="#000"/><rect x="729" y="447" width="5" height="10" fill="#000"/><rect x="730" y="448" width="3" height="8" fill="#fff"/><rect x="739" y="452" width="1" height="18" fill="#000"/><rect x="737" y="458" width="5" height="3" fill="#000"/><rect x="747" y="454" width="1" height="18" fill="#000"/><rect x="745" y="460" width="5" height="10" fill="#000"/><rect x="755" y="466" width="1" height="27" fill="#000"/><rect x="753" y="474" width="5" height="9" fill="#000"/><rect x="754" y="475" width="3" height="7" fill="#fff"/><rect x="763" y="471" width="1" height="38" fill="#000"/><rect x="761" y="484" width="5" height="12" fill="#000"/><rect x="771" y="478" width="1" height="19" fill="#000"/><rect x="769" y="484" width="5" height="12" fill="#000"/><rect x="770" y="485" width="3" height="10" fill="#fff"/><rect x="779" y="440" width="1" height="27" fill="#000"/><rect x="777" y="440" width="5" height="27" fill="#000"/><rect x="778" y="441" width="3" height="25" fill="#fff"/><rect x="787" y="437" width="1" height="29" fill="#000"/><rect x="785" y="446" width="5" height="11" fill="#000"/><rect x="786" y="447" width="3" height="9" fill="#fff"/><rect x="795" y="389" width="1" height="34" fill="#000"/><rect x="793" y="389" width="5" height="24" fill="#000"/><rect x="794" y="390" width="3" height="22" fill="#fff"/><rect x="803" y="389" width="1" height="18" fill="#000"/><rect x="801" y="389" width="5" height="7" fill="#000"/><rect x="811" y="363" width="1" height="19" fill="#000"/><rect x="809" y="364" width="5" height="12" fill="#000"/><rect x="819" y="349" width="1" height="25" fill="#000"/><rect x="817" y="353" width="5" height="1" fill="#000"/><rect x="827" y="349" width="1" height="18" fill="#000"/><rect x="825" y="360" width="5" height="1" fill="#000"/><rect x="835" y="346" width="1" height="28" fill="#000"/><rect x="833" y="355" width="5" height="9" fill="#000"/><rect x="843" y="365" width="1" height="18" fill="#000"/><rect x="841" y="366" width="5" height="5" fill="#000"/><rect x="842" y="367" width="3" height="3" fill="#fff"/><rect x="851" y="348" width="1" height="17" fill="#000"/><rect x="849" y="351" width="5" height="3" fill="#000"/><rect x="859" y="343" width="1" height="14" fill="#000"/><rect x="857" y="343" width="5" height="9" fill="#000"/><rect x="867" y="336" width="1" height="19" fill="#000"/><rect x="865" y="342" width="5" height="11" fill="#000"/><rect x="866" y="343" width="3" height="9" fill="#fff"/><rect x="875" y="349" width="1" height="9" fill="#000"/><rect x="873" y="352" width="5" height="4" fill="#000"/><rect x="883" y="341" width="1" height="16" fill="#000"/><rect x="881" y="348" width="5" height="4" fill="#000"/><rect x="882" y="349" width="3" height="2" fill="#fff"/><rect x="891" y="332" width="1" height="22" fill="#000"/><rect x="889" y="337" width="5" height="9" fill="#000"/><rect x="899" y="338" width="1" height="14" fill="#000"/><rect x="897" y="338" width="5" height="5" fill="#000"/><rect x="898" y="339" width="3" height="3" fill="#fff"/><rect x="907" y="309" width="1" height="31" fill="#000"/><rect x="905" y="327" width="5" height="10" fill="#000"/><rect x="915" y="325" width="1" height="13" fill="#000"/><rect x="913" y="326" width="5" height="6" fill="#000"/><rect x="914" y="327" width="3" height="4" fill="#fff"/><rect x="923" y="311" width="1" height="21" fill="#000"/><rect x="921" y="318" width="5" height="11" fill="#000"/><rect x="922" y="319" width="3" height="9" fill="#fff"/><rect x="931" y="316" width="1" height="43" fill="#000"/><rect x="929" y="327" width="5" height="24" fill="#000"/><rect x="939" y="335" width="1" height="19" fill="#000"/><rect x="937" y="340" width="5" height="10" fill="#000"/><rect x="938" y="341" width="3" height="8" fill="#fff"/><rect x="947" y="338" width="1" height="19" fill="#000"/><rect x="945" y="343" width="5" height="3" fill="#000"/><rect x="946" y="344" width="3" height="1" fill="#fff"/><rect x="955" y="325" width="1" height="18" fill="#000"/><rect x="953" y="331" width="5" height="9" fill="#000"/><rect x="954" y="332" width="3" height="7" fill="#fff"/><rect x="963" y="320" width="1" height="16" fill="#000"/><rect x="961" y="321" width="5" height="11" fill="#000"/><rect x="962" y="322" width="3" height="9" fill="#fff"/><rect x="971" y="323" width="1" height="39" fill="#000"/><rect x="969" y="323" width="5" height="28" fill="#000"/><rect x="979" y="343" width="1" height="17" fill="#000"/><rect x="977" y="344" width="5" height="15" fill="#000"/><rect x="987" y="333" width="1" height="18" fill="#000"/><rect x="985" y="342" width="5" height="6" fill="#000"/><rect x="986" y="343" width="3" height="4" fill="#fff"/><rect x="995" y="349" width="1" height="13" fill="#000"/><rect x="993" y="351" width="5" height="9" fill="#000"/><rect x="994" y="352" width="3" height="7" fill="#fff"/><rect x="1003" y="331" width="1" height="19" fill="#000"/><rect x="1001" y="341" width="5" height="8" fill="#000"/><rect x="1011" y="341" width="1" height="18" fill="#000"/><rect x="1009" y="343" width="5" height="12" fill="#000"/><rect x="1019" y="351" width="1" height="21" fill="#000"/><rect x="1017" y="353" width="5" height="10" fill="#000"/><rect x="1027" y="343" width="1" height="16" fill="#000"/><rect x="1025" y="343" width="5" height="14" fill="#000"/><rect x="1026" y="344" width="3" height="12" fill="#fff"/><rect x="1035" y="332" width="1" height="21" fill="#000"/><rect x="1033" y="333" width="5" height="13" fill="#000"/><rect x="1034" y="334" width="3" height="11" fill="#fff"/><rect x="1043" y="334" width="1" height="22" fill="#000"/><rect x="1041" y="339" width="5" height="7" fill="#000"/><rect x="1051" y="344" width="1" height="17" fill="#000"/><rect x="1049" y="351" width="5" height="5" fill="#000"/><rect x="1059" y="353" width="1" height="26" fill="#000"/><rect x="1057" y="362" width="5" height="8" fill="#000"/><rect x="1067" y="354" width="1" height="24" fill="#000"/><rect x="1065" y="356" width="5" height="22" fill="#000"/><rect x="1066" y="357" width="3" height="20" fill="#fff"/><rect x="1075" y="347" width="1" height="15" fill="#000"/><rect x="1073" y="350" width="5" height="7" fill="#000"/><rect x="1074" y="351" width="3" height="5" fill="#fff"/><rect x="1083" y="342" width="1" height="23" fill="#000"/><rect x="1081" y="352" width="5" height="3" fill="#000"/><rect x="1091" y="336" width="1" height="13" fill="#000"/><rect x="1089" y="337" width="5" height="8" fill="#000"/><rect x="1090" y="338" width="3" height="6" fill="#fff"/><rect x="1099" y="294" width="1" height="44" fill="#000"/><rect x="1097" y="295" width="5" height="43" fill="#000"/><rect x="1098" y="296" width="3" height="41" fill="#fff"/><rect x="1107" y="288" width="1" height="15" fill="#000"/><rect x="1105" y="296" width="5" height="3" fill="#000"/><rect x="1106" y="297" width="3" height="1" fill="#fff"/><rect x="1115" y="279" width="1" height="28" fill="#000"/><rect x="1113" y="282" width="5" height="18" fill="#000"/><rect x="1114" y="283" width="3" height="16" fill="#fff"/><rect x="1123" y="268" width="1" height="35" fill="#000"/><rect x="1121" y="277" width="5" height="22" fill="#000"/><rect x="1122" y="278" width="3" height="20" fill="#fff"/><rect x="1131" y="264" width="1" height="25" fill="#000"/><rect x="1129" y="270" width="5" height="4" fill="#000"/><rect x="1139" y="265" width="1" height="19" fill="#000"/><rect x="1137" y="268" width="5" height="12" fill="#000"/><rect x="1147" y="252" width="1" height="27" fill="#000"/><rect x="1145" y="263" width="5" height="13" fill="#000"/><rect x="1146" y="264" width="3" height="11" fill="#fff"/><rect x="1155" y="238" width="1" height="26" fill="#000"/><rect x="1153" y="252" width="5" height="1" fill="#000"/><rect x="1163" y="231" width="1" height="32" fill="#000"/><rect x="1161" y="232" width="5" height="29" fill="#000"/><rect x="1162" y="233" width="3" height="27" fill="#fff"/><rect x="1171" y="223" width="1" height="16" fill="#000"/><rect x="1169" y="234" width="5" height="1" fill="#000"/><rect x="1179" y="217" width="1" height="16" fill="#000"/><rect x="1177" y="219" width="5" height="7" fill="#000"/><rect x="1178" y="220" width="3" height="5" fill="#fff"/><rect x="1187" y="206" width="1" height="24" fill="#000"/><rect x="1185" y="212" width="5" height="11" fill="#000"/><rect x="1186" y="213" width="3" height="9" fill="#fff"/><rect x="1195" y="195" width="1" height="31" fill="#000"/><rect x="1193" y="196" width="5" height="27" fill="#000"/><rect x="1194" y="197" width="3" height="25" fill="#fff"/><rect x="1203" y="128" width="1" height="60" fill="#000"/><rect x="1201" y="146" width="5" height="41" fill="#000"/><rect x="1202" y="147" width="3" height="39" fill="#fff"/><rect x="1211" y="128" width="1" height="24" fill="#000"/><rect x="1209" y="130" width="5" height="22" fill="#000"/><rect x="1210" y="131" width="3" height="20" fill="#fff"/><rect x="1219" y="111" width="1" height="26" fill="#000"/><rect x="1217" y="123" width="5" height="5" fill="#000"/><rect x="1227" y="133" width="1" height="27" fill="#000"/><rect x="1225" y="133" width="5" height="24" fill="#000"/><rect x="1235" y="112" width="1" height="38" fill="#000"/><rect x="1233" y="117" width="5" height="33" fill="#000"/><rect x="1234" y="118" width="3" height="31" fill="#fff"/><rect x="1243" y="124" width="1" height="40" fill="#000"/><rect x="1241" y="127" width="5" height="31" fill="#000"/><rect x="1251" y="144" width="1" height="28" fill="#000"/><rect x="1249" y="148" width="5" height="21" fill="#000"/><rect x="1259" y="174" width="1" height="46" fill="#000"/><rect x="1257" y="192" width="5" height="27" fill="#000"/><rect x="1267" y="191" width="1" height="57" fill="#000"/><rect x="1265" y="194" width="5" height="37" fill="#000"/><rect x="1275" y="190" width="1" height="45" fill="#000"/><rect x="1273" y="198" width="5" height="36" fill="#000"/><rect x="1274" y="199" width="3" height="34" fill="#fff"/><rect x="1283" y="157" width="1" height="31" fill="#000"/><rect x="1281" y="171" width="5" height="17" fill="#000"/><rect x="1282" y="172" width="3" height="15" fill="#fff"/><rect x="1291" y="166" width="1" height="27" fill="#000"/><rect x="1289" y="172" width="5" height="1" fill="#000"/><rect x="1299" y="170" width="1" height="36" fill="#000"/><rect x="1297" y="180" width="5" height="3" fill="#000"/><rect x="1298" y="181" width="3" height="1" fill="#fff"/><rect x="1307" y="158" width="1" height="25" fill="#000"/><rect x="1305" y="169" width="5" height="13" fill="#000"/><rect x="1306" y="170" width="3" height="11" fill="#fff"/><rect x="1315" y="146" width="1" height="30" fill="#000"/><rect x="1313" y="155" width="5" height="21" fill="#000"/><rect x="1323" y="156" width="1" height="17" fill="#000"/><rect x="1321" y="161" width="5" height="4" fill="#000"/><rect x="1322" y="162" width="3" height="2" fill="#fff"/><rect x="1331" y="119" width="1" height="28" fill="#000"/><rect x="1329" y="125" width="5" height="22" fill="#000"/><rect x="1330" y="126" width="3" height="20" fill="#fff"/><rect x="1339" y="116" width="1" height="21" fill="#000"/><rect x="1337" y="117" width="5" height="16" fill="#000"/><rect x="1338" y="118" width="3" height="14" fill="#fff"/><rect x="1347" y="72" width="1" height="22" fill="#000"/><rect x="1345" y="78" width="5" height="6" fill="#000"/><rect x="1346" y="79" width="3" height="4" fill="#fff"/><rect x="1355" y="52" width="1" height="43" fill="#000"/><rect x="1353" y="59" width="5" height="30" fill="#000"/><rect x="1354" y="60" width="3" height="28" fill="#fff"/><rect x="1363" y="50" width="1" height="45" fill="#000"/><rect x="1361" y="53" width="5" height="41" fill="#000"/><rect x="1371" y="82" width="1" height="39" fill="#000"/><rect x="1369" y="88" width="5" height="9" fill="#000"/><rect x="1370" y="89" width="3" height="7" fill="#fff"/><rect x="1379" y="58" width="1" height="61" fill="#000"/><rect x="1377" y="69" width="5" height="49" fill="#000"/><rect x="1387" y="62" width="1" height="55" fill="#000"/><rect x="1385" y="84" width="5" height="30" fill="#000"/><rect x="1386" y="85" width="3" height="28" fill="#fff"/><rect x="1395" y="76" width="1" height="80" fill="#000"/><rect x="1393" y="89" width="5" height="59" fill="#000"/><rect x="1403" y="101" width="1" height="28" fill="#000"/><rect x="1401" y="118" width="5" height="7" fill="#000"/><rect x="1411" y="156" width="1" height="42" fill="#000"/><rect x="1409" y="165" width="5" height="24" fill="#000"/><rect x="1419" y="165" width="1" height="17" fill="#000"/><rect x="1417" y="168" width="5" height="1" fill="#000"/><rect x="1427" y="148" width="1" height="52" fill="#000"/><rect x="1425" y="152" width="5" height="39" fill="#000"/><rect x="1435" y="135" width="1" height="49" fill="#000"/><rect x="1433" y="142" width="5" height="39" fill="#000"/><rect x="1434" y="143" width="3" height="37" fill="#fff"/><rect x="1443" y="158" width="1" height="34" fill="#000"/><rect x="1441" y="165" width="5" height="16" fill="#000"/><rect x="1451" y="168" width="1" height="59" fill="#000"/><rect x="1449" y="192" width="5" height="21" fill="#000"/><rect x="1450" y="193" width="3" height="19" fill="#fff"/><rect x="1459" y="164" width="1" height="56" fill="#000"/><rect x="1457" y="165" width="5" height="55" fill="#000"/><line x1="1058.5" y1="360.0" x2="1211.3" y2="130.5" stroke="#ff0000" stroke-width="3.6" stroke-linecap="round"/><polygon points="1218.0,120.5 1215.4,134.4 1206.2,128.3" fill="#ff0000"/><line x1="1222.0" y1="117.0" x2="1261.7" y2="219.3" stroke="#ff0000" stroke-width="3.6" stroke-linecap="round"/><polygon points="1266.0,230.5 1256.2,220.4 1266.4,216.4" fill="#ff0000"/><line x1="1268.4" y1="228.0" x2="1347.7" y2="67.3" stroke="#ff0000" stroke-width="3.6" stroke-linecap="round"/><polygon points="1353.0,56.5 1352.2,70.6 1342.3,65.7" fill="#ff0000"/><line x1="1354.0" y1="58.8" x2="1458.4" y2="223.1" stroke="#ff0000" stroke-width="3.6" stroke-linecap="round"/><polygon points="1464.8,233.2 1453.2,225.2 1462.5,219.3" fill="#ff0000"/><rect x="1374" y="204" width="117" height="5" fill="#00ff00"/><polygon points="1459.5,24 1469.5,24 1464.5,29.5" fill="#c0c0c0"/><svg x="0" y="579" width="1685" height="169" viewBox="0 579 1685 169" overflow="hidden"><rect x="3" y="666" width="1" height="24" fill="#c0c0c0"/><rect x="11" y="673" width="1" height="17" fill="#c0c0c0"/><rect x="19" y="673" width="1" height="17" fill="#c0c0c0"/><rect x="27" y="672" width="1" height="18" fill="#c0c0c0"/><rect x="35" y="672" width="1" height="18" fill="#c0c0c0"/><rect x="43" y="670" width="1" height="20" fill="#c0c0c0"/><rect x="51" y="670" width="1" height="20" fill="#c0c0c0"/><rect x="59" y="665" width="1" height="25" fill="#c0c0c0"/><rect x="67" y="666" width="1" height="24" fill="#c0c0c0"/><rect x="75" y="669" width="1" height="21" fill="#c0c0c0"/><rect x="83" y="674" width="1" height="16" fill="#c0c0c0"/><rect x="91" y="676" width="1" height="14" fill="#c0c0c0"/><rect x="99" y="669" width="1" height="21" fill="#c0c0c0"/><rect x="107" y="663" width="1" height="27" fill="#c0c0c0"/><rect x="115" y="648" width="1" height="42" fill="#c0c0c0"/><rect x="123" y="641" width="1" height="49" fill="#c0c0c0"/><rect x="131" y="635" width="1" height="55" fill="#c0c0c0"/><rect x="139" y="628" width="1" height="62" fill="#c0c0c0"/><rect x="147" y="630" width="1" height="60" fill="#c0c0c0"/><rect x="155" y="631" width="1" height="59" fill="#c0c0c0"/><rect x="163" y="634" width="1" height="56" fill="#c0c0c0"/><rect x="171" y="638" width="1" height="52" fill="#c0c0c0"/><rect x="179" y="647" width="1" height="43" fill="#c0c0c0"/><rect x="187" y="653" width="1" height="37" fill="#c0c0c0"/><rect x="195" y="658" width="1" height="32" fill="#c0c0c0"/><rect x="203" y="658" width="1" height="32" fill="#c0c0c0"/><rect x="211" y="662" width="1" height="28" fill="#c0c0c0"/><rect x="219" y="665" width="1" height="25" fill="#c0c0c0"/><rect x="227" y="672" width="1" height="18" fill="#c0c0c0"/><rect x="235" y="679" width="1" height="11" fill="#c0c0c0"/><rect x="243" y="683" width="1" height="7" fill="#c0c0c0"/><rect x="251" y="686" width="1" height="4" fill="#c0c0c0"/><rect x="259" y="689" width="1" height="2" fill="#c0c0c0"/><rect x="267" y="689" width="1" height="6" fill="#c0c0c0"/><rect x="275" y="689" width="1" height="10" fill="#c0c0c0"/><rect x="283" y="689" width="1" height="9" fill="#c0c0c0"/><rect x="291" y="689" width="1" height="6" fill="#c0c0c0"/><rect x="299" y="689" width="1" height="6" fill="#c0c0c0"/><rect x="307" y="689" width="1" height="10" fill="#c0c0c0"/><rect x="315" y="689" width="1" height="13" fill="#c0c0c0"/><rect x="323" y="689" width="1" height="11" fill="#c0c0c0"/><rect x="331" y="689" width="1" height="5" fill="#c0c0c0"/><rect x="339" y="689" width="1" height="2" fill="#c0c0c0"/><rect x="347" y="688" width="1" height="2" fill="#c0c0c0"/><rect x="355" y="684" width="1" height="6" fill="#c0c0c0"/><rect x="363" y="681" width="1" height="9" fill="#c0c0c0"/><rect x="371" y="681" width="1" height="9" fill="#c0c0c0"/><rect x="379" y="685" width="1" height="5" fill="#c0c0c0"/><rect x="387" y="684" width="1" height="6" fill="#c0c0c0"/><rect x="395" y="680" width="1" height="10" fill="#c0c0c0"/><rect x="403" y="677" width="1" height="13" fill="#c0c0c0"/><rect x="411" y="675" width="1" height="15" fill="#c0c0c0"/><rect x="419" y="676" width="1" height="14" fill="#c0c0c0"/><rect x="427" y="675" width="1" height="15" fill="#c0c0c0"/><rect x="435" y="677" width="1" height="13" fill="#c0c0c0"/><rect x="443" y="679" width="1" height="11" fill="#c0c0c0"/><rect x="451" y="681" width="1" height="9" fill="#c0c0c0"/><rect x="459" y="684" width="1" height="6" fill="#c0c0c0"/><rect x="467" y="688" width="1" height="2" fill="#c0c0c0"/><rect x="475" y="689" width="1" height="6" fill="#c0c0c0"/><rect x="483" y="689" width="1" height="10" fill="#c0c0c0"/><rect x="491" y="689" width="1" height="14" fill="#c0c0c0"/><rect x="499" y="689" width="1" height="18" fill="#c0c0c0"/><rect x="507" y="689" width="1" height="20" fill="#c0c0c0"/><rect x="515" y="689" width="1" height="20" fill="#c0c0c0"/><rect x="523" y="689" width="1" height="17" fill="#c0c0c0"/><rect x="531" y="689" width="1" height="16" fill="#c0c0c0"/><rect x="539" y="689" width="1" height="18" fill="#c0c0c0"/><rect x="547" y="689" width="1" height="18" fill="#c0c0c0"/><rect x="555" y="689" width="1" height="24" fill="#c0c0c0"/><rect x="563" y="689" width="1" height="30" fill="#c0c0c0"/><rect x="571" y="689" width="1" height="34" fill="#c0c0c0"/><rect x="579" y="689" width="1" height="42" fill="#c0c0c0"/><rect x="587" y="689" width="1" height="48" fill="#c0c0c0"/><rect x="595" y="689" width="1" height="50" fill="#c0c0c0"/><rect x="603" y="689" width="1" height="52" fill="#c0c0c0"/><rect x="611" y="689" width="1" height="51" fill="#c0c0c0"/><rect x="619" y="689" width="1" height="47" fill="#c0c0c0"/><rect x="627" y="689" width="1" height="42" fill="#c0c0c0"/><rect x="635" y="689" width="1" height="35" fill="#c0c0c0"/><rect x="643" y="689" width="1" height="30" fill="#c0c0c0"/><rect x="651" y="689" width="1" height="26" fill="#c0c0c0"/><rect x="659" y="689" width="1" height="17" fill="#c0c0c0"/><rect x="667" y="689" width="1" height="9" fill="#c0c0c0"/><rect x="675" y="689" width="1" height="3" fill="#c0c0c0"/><rect x="683" y="689" width="1" height="4" fill="#c0c0c0"/><rect x="691" y="689" width="1" height="2" fill="#c0c0c0"/><rect x="699" y="687" width="1" height="3" fill="#c0c0c0"/><rect x="707" y="685" width="1" height="5" fill="#c0c0c0"/><rect x="715" y="682" width="1" height="8" fill="#c0c0c0"/><rect x="723" y="677" width="1" height="13" fill="#c0c0c0"/><rect x="731" y="673" width="1" height="17" fill="#c0c0c0"/><rect x="739" y="673" width="1" height="17" fill="#c0c0c0"/><rect x="747" y="674" width="1" height="16" fill="#c0c0c0"/><rect x="755" y="675" width="1" height="15" fill="#c0c0c0"/><rect x="763" y="680" width="1" height="10" fill="#c0c0c0"/><rect x="771" y="682" width="1" height="8" fill="#c0c0c0"/><rect x="779" y="677" width="1" height="13" fill="#c0c0c0"/><rect x="787" y="674" width="1" height="16" fill="#c0c0c0"/><rect x="795" y="663" width="1" height="27" fill="#c0c0c0"/><rect x="803" y="656" width="1" height="34" fill="#c0c0c0"/><rect x="811" y="648" width="1" height="42" fill="#c0c0c0"/><rect x="819" y="639" width="1" height="51" fill="#c0c0c0"/><rect x="827" y="633" width="1" height="57" fill="#c0c0c0"/><rect x="835" y="630" width="1" height="60" fill="#c0c0c0"/><rect x="843" y="628" width="1" height="62" fill="#c0c0c0"/><rect x="851" y="626" width="1" height="64" fill="#c0c0c0"/><rect x="859" y="624" width="1" height="66" fill="#c0c0c0"/><rect x="867" y="622" width="1" height="68" fill="#c0c0c0"/><rect x="875" y="624" width="1" height="66" fill="#c0c0c0"/><rect x="883" y="624" width="1" height="66" fill="#c0c0c0"/><rect x="891" y="625" width="1" height="65" fill="#c0c0c0"/><rect x="899" y="626" width="1" height="64" fill="#c0c0c0"/><rect x="907" y="626" width="1" height="64" fill="#c0c0c0"/><rect x="915" y="626" width="1" height="64" fill="#c0c0c0"/><rect x="923" y="625" width="1" height="65" fill="#c0c0c0"/><rect x="931" y="630" width="1" height="60" fill="#c0c0c0"/><rect x="939" y="633" width="1" height="57" fill="#c0c0c0"/><rect x="947" y="637" width="1" height="53" fill="#c0c0c0"/><rect x="955" y="638" width="1" height="52" fill="#c0c0c0"/><rect x="963" y="639" width="1" height="51" fill="#c0c0c0"/><rect x="971" y="644" width="1" height="46" fill="#c0c0c0"/><rect x="979" y="650" width="1" height="40" fill="#c0c0c0"/><rect x="987" y="652" width="1" height="38" fill="#c0c0c0"/><rect x="995" y="656" width="1" height="34" fill="#c0c0c0"/><rect x="1003" y="659" width="1" height="31" fill="#c0c0c0"/><rect x="1011" y="662" width="1" height="28" fill="#c0c0c0"/><rect x="1019" y="666" width="1" height="24" fill="#c0c0c0"/><rect x="1027" y="667" width="1" height="23" fill="#c0c0c0"/><rect x="1035" y="666" width="1" height="24" fill="#c0c0c0"/><rect x="1043" y="668" width="1" height="22" fill="#c0c0c0"/><rect x="1051" y="671" width="1" height="19" fill="#c0c0c0"/><rect x="1059" y="675" width="1" height="15" fill="#c0c0c0"/><rect x="1067" y="677" width="1" height="13" fill="#c0c0c0"/><rect x="1075" y="678" width="1" height="12" fill="#c0c0c0"/><rect x="1083" y="679" width="1" height="11" fill="#c0c0c0"/><rect x="1091" y="678" width="1" height="12" fill="#c0c0c0"/><rect x="1099" y="670" width="1" height="20" fill="#c0c0c0"/><rect x="1107" y="665" width="1" height="25" fill="#c0c0c0"/><rect x="1115" y="659" width="1" height="31" fill="#c0c0c0"/><rect x="1123" y="654" width="1" height="36" fill="#c0c0c0"/><rect x="1131" y="649" width="1" height="41" fill="#c0c0c0"/><rect x="1139" y="647" width="1" height="43" fill="#c0c0c0"/><rect x="1147" y="644" width="1" height="46" fill="#c0c0c0"/><rect x="1155" y="640" width="1" height="50" fill="#c0c0c0"/><rect x="1163" y="635" width="1" height="55" fill="#c0c0c0"/><rect x="1171" y="631" width="1" height="59" fill="#c0c0c0"/><rect x="1179" y="627" width="1" height="63" fill="#c0c0c0"/><rect x="1187" y="623" width="1" height="67" fill="#c0c0c0"/><rect x="1195" y="619" width="1" height="71" fill="#c0c0c0"/><rect x="1203" y="608" width="1" height="82" fill="#c0c0c0"/><rect x="1211" y="599" width="1" height="91" fill="#c0c0c0"/><rect x="1219" y="592" width="1" height="98" fill="#c0c0c0"/><rect x="1227" y="592" width="1" height="98" fill="#c0c0c0"/><rect x="1235" y="587" width="1" height="103" fill="#c0c0c0"/><rect x="1243" y="591" width="1" height="99" fill="#c0c0c0"/><rect x="1251" y="596" width="1" height="94" fill="#c0c0c0"/><rect x="1259" y="609" width="1" height="81" fill="#c0c0c0"/><rect x="1267" y="622" width="1" height="68" fill="#c0c0c0"/><rect x="1275" y="628" width="1" height="62" fill="#c0c0c0"/><rect x="1283" y="629" width="1" height="61" fill="#c0c0c0"/><rect x="1291" y="631" width="1" height="59" fill="#c0c0c0"/><rect x="1299" y="634" width="1" height="56" fill="#c0c0c0"/><rect x="1307" y="636" width="1" height="54" fill="#c0c0c0"/><rect x="1315" y="639" width="1" height="51" fill="#c0c0c0"/><rect x="1323" y="639" width="1" height="51" fill="#c0c0c0"/><rect x="1331" y="635" width="1" height="55" fill="#c0c0c0"/><rect x="1339" y="631" width="1" height="59" fill="#c0c0c0"/><rect x="1347" y="622" width="1" height="68" fill="#c0c0c0"/><rect x="1355" y="614" width="1" height="76" fill="#c0c0c0"/><rect x="1363" y="613" width="1" height="77" fill="#c0c0c0"/><rect x="1371" y="612" width="1" height="78" fill="#c0c0c0"/><rect x="1379" y="617" width="1" height="73" fill="#c0c0c0"/><rect x="1387" y="617" width="1" height="73" fill="#c0c0c0"/><rect x="1395" y="627" width="1" height="63" fill="#c0c0c0"/><rect x="1403" y="632" width="1" height="58" fill="#c0c0c0"/><rect x="1411" y="646" width="1" height="44" fill="#c0c0c0"/><rect x="1419" y="655" width="1" height="35" fill="#c0c0c0"/><rect x="1427" y="665" width="1" height="25" fill="#c0c0c0"/><rect x="1435" y="667" width="1" height="23" fill="#c0c0c0"/><rect x="1443" y="674" width="1" height="16" fill="#c0c0c0"/><rect x="1451" y="681" width="1" height="9" fill="#c0c0c0"/><rect x="1459" y="689" width="1" height="3" fill="#c0c0c0"/><polyline points="-4.5,688.7 3.5,682.6 11.5,678.1 19.5,674.5 27.5,671.7 35.5,670.0 43.5,669.1 51.5,669.2 59.5,669.4 67.5,669.6 75.5,669.9 83.5,670.0 91.5,670.4 99.5,670.2 107.5,669.1 115.5,666.7 123.5,663.5 131.5,660.1 139.5,655.9 147.5,651.6 155.5,646.8 163.5,642.1 171.5,638.6 179.5,636.9 187.5,637.3 195.5,639.3 203.5,641.9 211.5,645.6 219.5,649.5 227.5,654.2 235.5,659.2 243.5,664.2 251.5,668.5 259.5,672.6 267.5,676.5 275.5,681.1 283.5,684.9 291.5,688.1 299.5,690.5 307.5,692.6 315.5,694.5 323.5,696.0 331.5,696.4 339.5,696.0 347.5,694.8 355.5,693.5 363.5,692.1 371.5,690.6 379.5,689.1 387.5,687.3 395.5,685.2 403.5,683.3 411.5,681.7 419.5,680.4 427.5,679.4 435.5,678.9 443.5,678.8 451.5,678.4 459.5,678.3 467.5,679.3 475.5,681.2 483.5,683.7 491.5,686.5 499.5,690.0 507.5,693.3 515.5,696.4 523.5,699.1 531.5,701.3 539.5,703.3 547.5,704.7 555.5,706.2 563.5,708.1 571.5,709.9 579.5,712.3 587.5,715.4 595.5,719.0 603.5,723.1 611.5,726.8 619.5,730.0 627.5,732.0 635.5,732.5 643.5,732.0 651.5,730.3 659.5,726.8 667.5,722.3 675.5,716.9 683.5,711.7 691.5,706.7 699.5,701.9 707.5,697.6 715.5,693.7 723.5,689.6 731.5,686.1 739.5,683.4 747.5,681.4 755.5,679.5 763.5,678.3 771.5,677.7 779.5,676.8 787.5,675.9 795.5,674.4 803.5,672.4 811.5,669.7 819.5,665.8 827.5,661.1 835.5,655.6 843.5,649.6 851.5,644.0 859.5,638.5 867.5,633.9 875.5,630.4 883.5,627.8 891.5,626.3 899.5,625.5 907.5,625.1 915.5,624.9 923.5,624.8 931.5,625.5 939.5,626.7 947.5,628.2 955.5,629.7 963.5,631.2 971.5,633.2 979.5,635.8 987.5,638.7 995.5,642.1 1003.5,645.2 1011.5,648.4 1019.5,651.7 1027.5,654.9 1035.5,658.0 1043.5,660.7 1051.5,663.0 1059.5,665.6 1067.5,668.0 1075.5,670.2 1083.5,672.1 1091.5,673.3 1099.5,673.6 1107.5,673.5 1115.5,672.4 1123.5,670.5 1131.5,667.6 1139.5,664.3 1147.5,660.5 1155.5,656.2 1163.5,651.4 1171.5,647.1 1179.5,642.9 1187.5,638.9 1195.5,635.0 1203.5,630.5 1211.5,625.1 1219.5,619.4 1227.5,614.0 1235.5,608.8 1243.5,604.3 1251.5,600.9 1259.5,599.4 1267.5,599.7 1275.5,601.9 1283.5,605.2 1291.5,609.6 1299.5,614.3 1307.5,619.7 1315.5,625.0 1323.5,629.7 1331.5,632.6 1339.5,633.6 1347.5,632.9 1355.5,631.2 1363.5,629.2 1371.5,626.8 1379.5,624.7 1387.5,622.3 1395.5,621.0 1403.5,620.6 1411.5,622.4 1419.5,626.0 1427.5,631.7 1435.5,637.7 1443.5,644.5 1451.5,651.5 1459.5,659.8" fill="none" stroke="#ff0000" stroke-width="1" stroke-dasharray="3 3" shape-rendering="crispEdges"/></svg><line x1="1232.0" y1="590.0" x2="1309.1" y2="635.1" stroke="#ff0000" stroke-width="3" stroke-linecap="round"/><polygon points="1318.6,640.6 1305.5,639.3 1311.0,629.8" fill="#ff0000"/><line x1="1318.6" y1="640.6" x2="1357.2" y2="620.6" stroke="#ff0000" stroke-width="3" stroke-linecap="round"/><polygon points="1367.0,615.5 1358.9,625.9 1353.8,616.1" fill="#ff0000"/><line x1="1366.0" y1="616.4" x2="1458.0" y2="686.8" stroke="#ff0000" stroke-width="3" stroke-linecap="round"/><polygon points="1466.7,693.5 1453.8,690.6 1460.5,681.8" fill="#ff0000"/><svg x="0" y="751" width="1685" height="173" viewBox="0 751 1685 173" overflow="hidden"><line x1="0" y1="786.5" x2="1685" y2="786.5" stroke="#c0c0c0" stroke-width="1" stroke-dasharray="3 3" stroke-dashoffset="-2"/><line x1="0" y1="837.5" x2="1685" y2="837.5" stroke="#c0c0c0" stroke-width="1" stroke-dasharray="3 3" stroke-dashoffset="-2"/><line x1="0" y1="898.5" x2="1685" y2="898.5" stroke="#c0c0c0" stroke-width="1" stroke-dasharray="3 3" stroke-dashoffset="-2"/><polyline points="-4.5,830.2 3.5,834.4 11.5,844.6 19.5,832.1 27.5,831.2 35.5,832.9 43.5,827.5 51.5,831.2 59.5,822.0 67.5,832.1 75.5,835.9 83.5,841.6 91.5,837.7 99.5,821.3 107.5,819.0 115.5,805.8 123.5,814.4 131.5,813.2 139.5,810.8 147.5,822.9 155.5,821.9 163.5,826.7 171.5,827.8 179.5,839.9 187.5,834.9 195.5,837.8 203.5,826.7 211.5,837.1 219.5,834.4 227.5,844.5 235.5,845.7 243.5,843.0 251.5,840.3 259.5,845.0 267.5,846.9 275.5,850.2 283.5,836.8 291.5,834.1 299.5,839.7 307.5,848.5 315.5,847.9 323.5,836.2 331.5,829.0 339.5,831.8 347.5,832.9 355.5,828.2 363.5,827.2 371.5,833.2 379.5,844.7 387.5,834.7 395.5,825.2 403.5,826.6 411.5,827.5 419.5,835.8 427.5,829.9 435.5,837.7 443.5,837.9 451.5,838.5 459.5,842.0 467.5,848.9 475.5,852.9 483.5,854.0 491.5,855.5 499.5,860.2 507.5,851.0 515.5,848.1 523.5,839.7 531.5,841.6 539.5,853.3 547.5,848.0 555.5,862.6 563.5,867.4 571.5,865.1 579.5,873.8 587.5,875.6 595.5,865.0 603.5,867.7 611.5,861.2 619.5,849.5 627.5,843.2 635.5,835.9 643.5,838.5 651.5,840.5 659.5,822.3 667.5,822.0 675.5,824.8 683.5,841.5 691.5,834.0 699.5,828.7 707.5,830.1 715.5,826.7 723.5,820.7 731.5,819.6 739.5,827.1 747.5,832.3 755.5,834.7 763.5,845.6 771.5,839.5 779.5,820.4 787.5,823.9 795.5,806.7 803.5,809.8 811.5,804.7 819.5,799.8 827.5,803.8 835.5,805.2 843.5,806.7 851.5,803.3 859.5,802.7 867.5,800.1 875.5,809.0 883.5,806.7 891.5,805.7 899.5,803.4 907.5,802.7 915.5,799.2 923.5,796.7 931.5,820.6 939.5,816.4 947.5,818.5 955.5,813.4 963.5,809.5 971.5,828.4 979.5,832.8 987.5,825.3 995.5,830.3 1003.5,829.1 1011.5,832.7 1019.5,837.5 1027.5,827.2 1035.5,822.4 1043.5,830.2 1051.5,836.1 1059.5,843.6 1067.5,836.1 1075.5,832.9 1083.5,835.4 1091.5,826.2 1099.5,809.4 1107.5,810.4 1115.5,805.6 1123.5,804.0 1131.5,802.7 1139.5,807.4 1147.5,801.8 1155.5,798.2 1163.5,792.8 1171.5,794.7 1179.5,790.6 1187.5,788.8 1195.5,785.1 1203.5,776.7 1211.5,774.6 1219.5,774.3 1227.5,795.3 1235.5,787.8 1243.5,809.2 1251.5,814.3 1259.5,833.9 1267.5,837.8 1275.5,828.0 1283.5,820.8 1291.5,821.3 1299.5,824.5 1307.5,821.3 1315.5,823.9 1323.5,819.5 1331.5,810.0 1339.5,808.0 1347.5,799.7 1355.5,796.2 1363.5,811.9 1371.5,810.6 1379.5,822.6 1387.5,814.4 1395.5,835.0 1403.5,829.3 1411.5,845.6 1419.5,840.5 1427.5,845.4 1435.5,833.6 1443.5,842.3 1451.5,844.9 1459.5,850.5" fill="none" stroke="#1e90ff" stroke-width="1" shape-rendering="crispEdges"/></svg><line x1="1207.7" y1="762.8" x2="1266.2" y2="828.2" stroke="#ff0000" stroke-width="3" stroke-linecap="round"/><polygon points="1273.5,836.4 1261.4,831.1 1269.6,823.8" fill="#ff0000"/><line x1="1273.5" y1="836.0" x2="1350.2" y2="798.3" stroke="#ff0000" stroke-width="3" stroke-linecap="round"/><polygon points="1360.1,793.5 1351.8,803.7 1346.9,793.8" fill="#ff0000"/><line x1="1359.3" y1="794.0" x2="1453.9" y2="853.9" stroke="#ff0000" stroke-width="3" stroke-linecap="round"/><polygon points="1463.2,859.8 1450.1,858.0 1456.0,848.7" fill="#ff0000"/><rect x="1686" y="45" width="2" height="1" fill="#000"/><text x="1691" y="45.370" font-size="9.2" fill="#000" text-anchor="start" font-weight="normal" transform="scale(1,1.08)" >31187.5</text><rect x="1686" y="78" width="2" height="1" fill="#000"/><text x="1691" y="75.926" font-size="9.2" fill="#000" text-anchor="start" font-weight="normal" transform="scale(1,1.08)" >30676.0</text><rect x="1686" y="111" width="2" height="1" fill="#000"/><text x="1691" y="106.481" font-size="9.2" fill="#000" text-anchor="start" font-weight="normal" transform="scale(1,1.08)" >30164.5</text><rect x="1686" y="144" width="2" height="1" fill="#000"/><text x="1691" y="137.037" font-size="9.2" fill="#000" text-anchor="start" font-weight="normal" transform="scale(1,1.08)" >29637.5</text><rect x="1686" y="177" width="2" height="1" fill="#000"/><text x="1691" y="167.593" font-size="9.2" fill="#000" text-anchor="start" font-weight="normal" transform="scale(1,1.08)" >29126.0</text><rect x="1686" y="210" width="2" height="1" fill="#000"/><text x="1691" y="198.148" font-size="9.2" fill="#000" text-anchor="start" font-weight="normal" transform="scale(1,1.08)" >28614.5</text><rect x="1686" y="243" width="2" height="1" fill="#000"/><text x="1691" y="228.704" font-size="9.2" fill="#000" text-anchor="start" font-weight="normal" transform="scale(1,1.08)" >28103.0</text><rect x="1686" y="276" width="2" height="1" fill="#000"/><text x="1691" y="259.259" font-size="9.2" fill="#000" text-anchor="start" font-weight="normal" transform="scale(1,1.08)" >27576.0</text><rect x="1686" y="309" width="2" height="1" fill="#000"/><text x="1691" y="289.815" font-size="9.2" fill="#000" text-anchor="start" font-weight="normal" transform="scale(1,1.08)" >27064.5</text><rect x="1686" y="342" width="2" height="1" fill="#000"/><text x="1691" y="320.370" font-size="9.2" fill="#000" text-anchor="start" font-weight="normal" transform="scale(1,1.08)" >26553.0</text><rect x="1686" y="375" width="2" height="1" fill="#000"/><text x="1691" y="350.926" font-size="9.2" fill="#000" text-anchor="start" font-weight="normal" transform="scale(1,1.08)" >26026.0</text><rect x="1686" y="408" width="2" height="1" fill="#000"/><text x="1691" y="381.481" font-size="9.2" fill="#000" text-anchor="start" font-weight="normal" transform="scale(1,1.08)" >25514.5</text><rect x="1686" y="441" width="2" height="1" fill="#000"/><text x="1691" y="412.037" font-size="9.2" fill="#000" text-anchor="start" font-weight="normal" transform="scale(1,1.08)" >25003.0</text><rect x="1686" y="474" width="2" height="1" fill="#000"/><text x="1691" y="442.593" font-size="9.2" fill="#000" text-anchor="start" font-weight="normal" transform="scale(1,1.08)" >24476.0</text><rect x="1686" y="507" width="2" height="1" fill="#000"/><text x="1691" y="473.148" font-size="9.2" fill="#000" text-anchor="start" font-weight="normal" transform="scale(1,1.08)" >23964.5</text><rect x="1686" y="540" width="2" height="1" fill="#000"/><text x="1691" y="503.704" font-size="9.2" fill="#000" text-anchor="start" font-weight="normal" transform="scale(1,1.08)" >23453.0</text><rect x="1686" y="573" width="2" height="1" fill="#000"/><text x="1691" y="534.259" font-size="9.2" fill="#000" text-anchor="start" font-weight="normal" transform="scale(1,1.08)" >22941.5</text><rect x="1687" y="159" width="41" height="11" fill="#ff0000"/><text x="1691" y="155.278" font-size="9.2" fill="#fff" text-anchor="start" font-weight="normal" transform="scale(1,1.08)" >29310.2</text><rect x="1687" y="183" width="41" height="11" fill="#ff0000"/><text x="1691" y="177.500" font-size="9.2" fill="#fff" text-anchor="start" font-weight="normal" transform="scale(1,1.08)" >28935.6</text><rect x="1687" y="201" width="41" height="11" fill="#32cd32"/><text x="1691" y="194.167" font-size="9.2" fill="#fff" text-anchor="start" font-weight="normal" transform="scale(1,1.08)" >28654.6</text><rect x="1687" y="214" width="41" height="11" fill="#000000"/><text x="1691" y="206.204" font-size="9.2" fill="#fff" text-anchor="start" font-weight="normal" transform="scale(1,1.08)" >28466.0</text><rect x="1687" y="235" width="41" height="11" fill="#0000ff"/><text x="1691" y="225.648" font-size="9.2" fill="#fff" text-anchor="start" font-weight="normal" transform="scale(1,1.08)" >28123.9</text><rect x="1687" y="255" width="41" height="11" fill="#0000ff"/><text x="1691" y="244.167" font-size="9.2" fill="#fff" text-anchor="start" font-weight="normal" transform="scale(1,1.08)" >27811.7</text><rect x="1686" y="580" width="1" height="1" fill="#000"/><rect x="1686" y="689" width="2" height="1" fill="#000"/><text x="1689" y="546.296" font-size="9.2" fill="#000" text-anchor="start" font-weight="normal" transform="scale(1,1.08)" >905.5</text><text x="1690" y="642.130" font-size="9.2" fill="#000" text-anchor="start" font-weight="normal" transform="scale(1,1.08)" >0.00</text><text x="1689" y="690.278" font-size="9.2" fill="#000" text-anchor="start" font-weight="normal" transform="scale(1,1.08)" >-488.99</text><rect x="1686" y="786" width="2" height="1" fill="#000"/><rect x="1686" y="837" width="2" height="1" fill="#000"/><rect x="1686" y="898" width="2" height="1" fill="#000"/><text x="1689" y="705.093" font-size="9.2" fill="#000" text-anchor="start" font-weight="normal" transform="scale(1,1.08)" >100</text><text x="1688" y="731.944" font-size="9.2" fill="#000" text-anchor="start" font-weight="normal" transform="scale(1,1.08)" >80</text><text x="1688" y="779.167" font-size="9.2" fill="#000" text-anchor="start" font-weight="normal" transform="scale(1,1.08)" >50</text><text x="1688" y="835.648" font-size="9.2" fill="#000" text-anchor="start" font-weight="normal" transform="scale(1,1.08)" >15</text><text x="1689" y="853.241" font-size="9.2" fill="#000" text-anchor="start" font-weight="normal" transform="scale(1,1.08)" >0</text><text x="-1" y="867.593" font-size="9.2" fill="#000" text-anchor="start" font-weight="normal" transform="scale(1,1.08)" >1 Jun 2020</text><rect x="59" y="925" width="1" height="3" fill="#000"/><text x="58" y="867.593" font-size="9.2" fill="#000" text-anchor="start" font-weight="normal" transform="scale(1,1.08)" >23 Jun 2020</text><rect x="123" y="925" width="1" height="3" fill="#000"/><text x="122" y="867.593" font-size="9.2" fill="#000" text-anchor="start" font-weight="normal" transform="scale(1,1.08)" >7 Jul 2020</text><rect x="187" y="925" width="1" height="3" fill="#000"/><text x="186" y="867.593" font-size="9.2" fill="#000" text-anchor="start" font-weight="normal" transform="scale(1,1.08)" >17 Jul 2020</text><rect x="251" y="925" width="1" height="3" fill="#000"/><text x="250" y="867.593" font-size="9.2" fill="#000" text-anchor="start" font-weight="normal" transform="scale(1,1.08)" >29 Jul 2020</text><rect x="315" y="925" width="1" height="3" fill="#000"/><text x="314" y="867.593" font-size="9.2" fill="#000" text-anchor="start" font-weight="normal" transform="scale(1,1.08)" >10 Aug 2020</text><rect x="379" y="925" width="1" height="3" fill="#000"/><text x="378" y="867.593" font-size="9.2" fill="#000" text-anchor="start" font-weight="normal" transform="scale(1,1.08)" >20 Aug 2020</text><rect x="443" y="925" width="1" height="3" fill="#000"/><text x="442" y="867.593" font-size="9.2" fill="#000" text-anchor="start" font-weight="normal" transform="scale(1,1.08)" >1 Sep 2020</text><rect x="507" y="925" width="1" height="3" fill="#000"/><text x="506" y="867.593" font-size="9.2" fill="#000" text-anchor="start" font-weight="normal" transform="scale(1,1.08)" >11 Sep 2020</text><rect x="571" y="925" width="1" height="3" fill="#000"/><text x="570" y="867.593" font-size="9.2" fill="#000" text-anchor="start" font-weight="normal" transform="scale(1,1.08)" >23 Sep 2020</text><rect x="635" y="925" width="1" height="3" fill="#000"/><text x="634" y="867.593" font-size="9.2" fill="#000" text-anchor="start" font-weight="normal" transform="scale(1,1.08)" >7 Oct 2020</text><rect x="699" y="925" width="1" height="3" fill="#000"/><text x="698" y="867.593" font-size="9.2" fill="#000" text-anchor="start" font-weight="normal" transform="scale(1,1.08)" >19 Oct 2020</text><rect x="763" y="925" width="1" height="3" fill="#000"/><text x="762" y="867.593" font-size="9.2" fill="#000" text-anchor="start" font-weight="normal" transform="scale(1,1.08)" >30 Oct 2020</text><rect x="827" y="925" width="1" height="3" fill="#000"/><text x="826" y="867.593" font-size="9.2" fill="#000" text-anchor="start" font-weight="normal" transform="scale(1,1.08)" >11 Nov 2020</text><rect x="891" y="925" width="1" height="3" fill="#000"/><text x="890" y="867.593" font-size="9.2" fill="#000" text-anchor="start" font-weight="normal" transform="scale(1,1.08)" >23 Nov 2020</text><rect x="955" y="925" width="1" height="3" fill="#000"/><text x="954" y="867.593" font-size="9.2" fill="#000" text-anchor="start" font-weight="normal" transform="scale(1,1.08)" >3 Dec 2020</text><rect x="1019" y="925" width="1" height="3" fill="#000"/><text x="1018" y="867.593" font-size="9.2" fill="#000" text-anchor="start" font-weight="normal" transform="scale(1,1.08)" >15 Dec 2020</text><rect x="1083" y="925" width="1" height="3" fill="#000"/><text x="1082" y="867.593" font-size="9.2" fill="#000" text-anchor="start" font-weight="normal" transform="scale(1,1.08)" >28 Dec 2020</text><rect x="1147" y="925" width="1" height="3" fill="#000"/><text x="1146" y="867.593" font-size="9.2" fill="#000" text-anchor="start" font-weight="normal" transform="scale(1,1.08)" >8 Jan 2021</text><rect x="1211" y="925" width="1" height="3" fill="#000"/><text x="1210" y="867.593" font-size="9.2" fill="#000" text-anchor="start" font-weight="normal" transform="scale(1,1.08)" >20 Jan 2021</text><rect x="1275" y="925" width="1" height="3" fill="#000"/><text x="1274" y="867.593" font-size="9.2" fill="#000" text-anchor="start" font-weight="normal" transform="scale(1,1.08)" >1 Feb 2021</text><rect x="1339" y="925" width="1" height="3" fill="#000"/><text x="1338" y="867.593" font-size="9.2" fill="#000" text-anchor="start" font-weight="normal" transform="scale(1,1.08)" >11 Feb 2021</text><rect x="1403" y="925" width="1" height="3" fill="#000"/><text x="1402" y="867.593" font-size="9.2" fill="#000" text-anchor="start" font-weight="normal" transform="scale(1,1.08)" >25 Feb 2021</text><polygon points="0,34 3,30.5 6,34" fill="#000"/><text x="10" y="32.407" font-size="9.2" fill="#000" text-anchor="start" font-weight="normal" transform="scale(1,1.08)" >HK50-,Daily</text><text x="67.5" y="32.407" font-size="9.2" fill="#000" text-anchor="start" font-weight="normal" transform="scale(1,1.08)" >29315.0</text><text x="103.3" y="32.407" font-size="9.2" fill="#000" text-anchor="start" font-weight="normal" transform="scale(1,1.08)" >29334.0</text><text x="139.3" y="32.407" font-size="9.2" fill="#000" text-anchor="start" font-weight="normal" transform="scale(1,1.08)" >28323.0</text><text x="175" y="32.407" font-size="9.2" fill="#000" text-anchor="start" font-weight="normal" transform="scale(1,1.08)" >28466.0</text><text x="0" y="547.222" font-size="9.2" fill="#000" text-anchor="start" font-weight="normal" transform="scale(1,1.08)" >MACD(12,26,9) -21.04 237.68</text><text x="0" y="706.481" font-size="9.2" fill="#000" text-anchor="start" font-weight="normal" transform="scale(1,1.08)" >RSI(14) 42.3986</text><g fill="none" stroke="#00ff00" stroke-width="1.3" stroke-linecap="square" stroke-linejoin="miter"><polyline points="1492.86,189.24 1488.30,193.68"/><polyline points="1491.34,190.72 1497.04,190.72 1489.44,197.38"/><polyline points="1490.96,192.94 1493.24,194.79"/><polyline points="1495.52,195.90 1490.20,200.71"/><polyline points="1494.38,197.38 1501.22,197.38 1487.92,206.26"/><polyline points="1494.00,199.97 1496.28,201.82"/></g><g fill="none" stroke="#00ff00" stroke-width="1.3" stroke-linecap="square" stroke-linejoin="miter"><polyline points="1515.21,188.69 1515.78,190.53"/><polyline points="1507.80,193.68 1507.80,191.46 1523.00,191.46 1523.00,193.68"/><polyline points="1513.50,193.31 1510.46,196.64"/><polyline points="1517.30,193.31 1520.72,196.64"/><polyline points="1510.46,199.23 1520.34,199.23"/><polyline points="1515.40,199.23 1515.40,205.52"/><polyline points="1507.04,205.70 1523.76,205.70"/></g><g fill="none" stroke="#00ff00" stroke-width="1.3" stroke-linecap="square" stroke-linejoin="miter"><polyline points="1528.06,192.20 1535.28,192.20"/><polyline points="1531.48,189.43 1528.82,198.86 1535.28,198.86"/><polyline points="1532.24,194.42 1532.24,206.63"/><polyline points="1527.68,202.93 1535.66,201.45"/><polyline points="1537.18,192.57 1544.78,192.57"/><polyline points="1536.42,196.27 1545.92,196.27"/><polyline points="1541.74,189.24 1539.84,199.97"/><polyline points="1538.70,199.97 1544.78,199.97 1541.74,203.67"/><polyline points="1539.84,203.30 1543.26,206.26"/></g><g fill="none" stroke="#00ff00" stroke-width="1.3" stroke-linecap="square" stroke-linejoin="miter"><polyline points="1549.46,194.42 1556.30,194.42"/><polyline points="1552.88,189.24 1552.88,205.52 1551.36,204.41"/><polyline points="1549.46,201.82 1556.30,198.86"/><polyline points="1566.18,189.98 1559.72,191.83"/><polyline points="1559.72,191.83 1559.72,199.60 1558.20,206.26"/><polyline points="1559.72,197.01 1567.32,197.01"/><polyline points="1563.71,197.01 1563.71,206.63"/></g><g fill="none" stroke="#00ff00" stroke-width="1.3" stroke-linecap="square" stroke-linejoin="miter"><polyline points="1578.84,188.87 1578.84,195.90"/><polyline points="1578.84,192.20 1585.68,192.20"/><polyline points="1574.66,195.90 1584.92,195.90 1584.92,200.71 1574.66,200.71 1574.66,195.90"/><polyline points="1572.76,202.93 1571.62,206.26"/><polyline points="1576.94,203.30 1577.70,206.26"/><polyline points="1581.50,203.30 1582.64,206.26"/><polyline points="1586.06,202.93 1587.77,206.07"/></g><rect x="0" y="43" width="50" height="1" fill="#c40000"/><rect x="49" y="43" width="1" height="25" fill="#c40000"/><rect x="0" y="44" width="49" height="23" fill="url(#gTab)"/><rect x="2" y="66" width="45" height="1" fill="#8a0000"/><rect x="2" y="67" width="45" height="1" fill="#ff7272"/><rect x="49" y="67" width="58" height="1" fill="#c40000"/><rect x="0" y="68" width="106" height="38" fill="url(#gBox)"/><rect x="0" y="67" width="2" height="1" fill="#e02a2a"/><rect x="47" y="67" width="2" height="1" fill="#e02a2a"/><rect x="106" y="67" width="1" height="40" fill="#a00000"/><rect x="0" y="106" width="107" height="1" fill="#a00000"/><rect x="165" y="43" width="52" height="1" fill="#c40000"/><rect x="165" y="43" width="1" height="25" fill="#c40000"/><rect x="216" y="43" width="1" height="64" fill="#a00000"/><rect x="166" y="44" width="50" height="23" fill="url(#gTab)"/><rect x="169" y="66" width="45" height="1" fill="#8a0000"/><rect x="169" y="67" width="45" height="1" fill="#ff7272"/><rect x="109" y="67" width="57" height="1" fill="#c40000"/><rect x="109" y="68" width="107" height="38" fill="url(#gBox)"/><rect x="166" y="67" width="3" height="1" fill="#e02a2a"/><rect x="214" y="67" width="2" height="1" fill="#e02a2a"/><rect x="109" y="106" width="108" height="1" fill="#a00000"/><rect x="109" y="67" width="1" height="40" fill="#c40000"/><rect x="52.5" y="43.5" width="110" height="21" fill="#fff" stroke="#a3a9b1" stroke-width="1"/><rect x="54" y="45" width="19" height="18" fill="url(#gBtn)"/><rect x="73" y="44" width="1" height="20" fill="#b0b4ba"/><rect x="142" y="45" width="19" height="18" fill="url(#gBtn)"/><rect x="141" y="44" width="1" height="20" fill="#b0b4ba"/><polygon points="60.5,52 66.5,52 63.5,55.5" fill="#4a5fc0"/><polygon points="148.5,55 154.5,55 151.5,51.5" fill="#4a5fc0"/><text x="137.5" y="58" font-size="11.5" fill="#000" text-anchor="end" font-weight="normal" >1.00</text><text x="10.5" y="59.2" font-size="12.2" fill="#fff" text-anchor="start" font-weight="normal" textLength="25" lengthAdjust="spacingAndGlyphs">SELL</text><text x="178.5" y="59.2" font-size="12.2" fill="#fff" text-anchor="start" font-weight="normal" textLength="23.5" lengthAdjust="spacingAndGlyphs">BUY</text><text x="14" y="98" font-size="12.5" fill="#fff" text-anchor="start" font-weight="bold" >28464</text><rect x="53.2" y="93.8" width="4.2" height="4" rx="1.2" fill="#fff"/><path transform="translate(0,0)" d="M74,75 H63.6 V84.6 M63.6,84.6 C66.5,82.6 71.5,82.9 73.3,86.8 C74.9,90.4 74.2,94.8 70.6,96.7 C67.6,98.2 63.6,97.6 61.6,95.4" fill="none" stroke="#fff" stroke-width="1.9"/><rect x="163.2" y="93.8" width="4.2" height="4" rx="1.2" fill="#fff"/><path transform="translate(110,0)" d="M74,75 H63.6 V84.6 M63.6,84.6 C66.5,82.6 71.5,82.9 73.3,86.8 C74.9,90.4 74.2,94.8 70.6,96.7 C67.6,98.2 63.6,97.6 61.6,95.4" fill="none" stroke="#fff" stroke-width="1.9"/><text x="124" y="98" font-size="12.5" fill="#fff" text-anchor="start" font-weight="bold" >28491</text></svg></body></html>
